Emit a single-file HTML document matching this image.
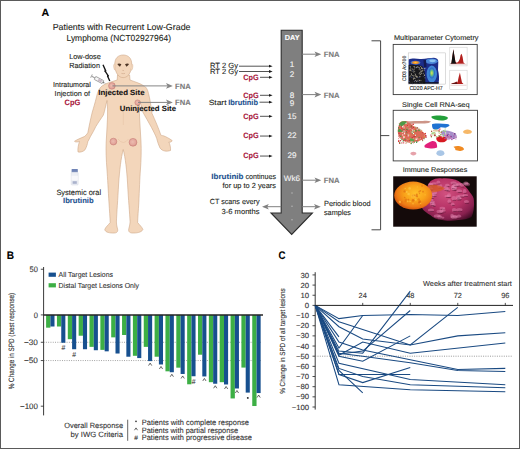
<!DOCTYPE html>
<html><head><meta charset="utf-8"><title>figure</title>
<style>
html,body{margin:0;padding:0;background:#fff;width:520px;height:449px;overflow:hidden;}
svg{display:block;font-family:"Liberation Sans",sans-serif;text-rendering:geometricPrecision;}
text{font-family:"Liberation Sans",sans-serif;}
</style></head><body>
<svg width="520" height="449" viewBox="0 0 520 449" fill="#231f20">
<rect x="0.5" y="0.5" width="519" height="448" fill="none" stroke="#5a5a5a" stroke-width="1"/>
<text stroke="#000" stroke-width="0.1" x="41.50" y="16.01" font-size="10.5" font-weight="bold" fill="#000" textLength="7.70" lengthAdjust="spacingAndGlyphs">A</text>
<text stroke="#231f20" stroke-width="0.1" fill="#231f20" x="52.70" y="29.73" font-size="8.8" textLength="137.80" lengthAdjust="spacingAndGlyphs">Patients with Recurrent Low-Grade</text>
<text stroke="#231f20" stroke-width="0.1" fill="#231f20" x="66.50" y="40.83" font-size="8.8" textLength="104.50" lengthAdjust="spacingAndGlyphs">Lymphoma (NCT02927964)</text>
<text stroke="#231f20" stroke-width="0.1" fill="#231f20" x="69.20" y="59.41" font-size="7.3" textLength="31.60" lengthAdjust="spacingAndGlyphs">Low-dose</text>
<text stroke="#231f20" stroke-width="0.1" fill="#231f20" x="69.20" y="68.31" font-size="7.3" textLength="30.80" lengthAdjust="spacingAndGlyphs">Radiation</text>
<text stroke="#231f20" stroke-width="0.1" fill="#231f20" x="53.00" y="86.71" font-size="7.3" textLength="37.80" lengthAdjust="spacingAndGlyphs">Intratumoral</text>
<text stroke="#231f20" stroke-width="0.1" fill="#231f20" x="54.60" y="96.31" font-size="7.3" textLength="35.40" lengthAdjust="spacingAndGlyphs">Injection of</text>
<text stroke="#a8163c" stroke-width="0.1" x="64.60" y="105.18" font-size="7.8" font-weight="bold" fill="#a8163c" textLength="15.70" lengthAdjust="spacingAndGlyphs">CpG</text>
<text stroke="#231f20" stroke-width="0.1" fill="#231f20" x="56.40" y="195.05" font-size="7.7" textLength="44.70" lengthAdjust="spacingAndGlyphs">Systemic oral</text>
<text stroke="#1d5290" stroke-width="0.1" x="63.10" y="202.51" font-size="7.6" font-weight="bold" fill="#1d5290" textLength="30.50" lengthAdjust="spacingAndGlyphs">Ibrutinib</text>
<path d="M117.5,75 L117.2,80 C112,81.8 106,83 102,86 C99,88.5 97.5,92 96.5,97 C95,103 93.5,108 92.3,112 C90.5,119 89,127 87.8,132.8 C87,134.5 85.5,135.8 84.3,136.6 C81,138 77,139.5 74.5,141.3 C75.5,142.3 77.5,142 79.5,141.5 C78.5,144.5 77.5,148.5 78,152 C80.5,152.5 83.5,151.5 85.1,149.7 C86.5,147 87.5,144 87.8,141.7 C88.8,139.8 89.8,138 90.5,136.4 C92.5,133 94.2,130 95.8,126.6 C98.5,122 101.5,118 103.4,115 C104.8,111 105.5,106 107,100.5 C107.6,106 107.8,112 107.5,118 C107.2,126 106.6,134 106.2,142 C105.8,150 106.2,160 107,170 C107.6,178 108.2,190 109,203 C109.5,211 110,217 110.2,222.5 C108.5,225 105.5,227 104.8,229.5 C105.2,232.5 110,233.2 114.5,233 C117.5,232.8 118.3,231 117.3,228 C116.8,226 116.4,224 116.4,222 C116.8,212 117.8,200 118.6,184 C119.6,170 121,158 123.2,149.5 C125.4,158 126.8,170 127.6,184 C128.4,200 129.6,212 130.1,222 C130,224 129.5,226 129,228 C128,231 129,232.8 132,233 C136.5,233.2 141.5,232.5 142.9,229.5 C142,227 139.5,225 137.6,222.5 C137.8,217 138.3,211 138.8,203 C139.4,190 139.8,178 140.4,170 C141.2,160 141.4,150 141,142 C140.6,134 140,126 139.6,118 C139.3,112 139.4,106 139.8,101 C141,104.5 141.8,108.5 142.8,112 C145.5,117 148.5,122 151.5,127.5 C153.5,131.5 155.5,135 156.7,138.5 C157.5,141.5 158.5,145 160,148 C162.5,151.3 166.5,151.8 170.5,150.5 C170.8,147.5 170,144.5 168.8,142 C170.2,142.5 171.6,142 172.2,140.6 C169.5,138.5 165.5,136.5 163.5,135.8 C162.2,135.5 161.2,135.4 160.9,135.2 C158.5,128 155,120 152,113.4 C151,106 150,99 148.5,93.5 C147.5,89 146,87 144.2,86.2 C141,83.5 135,82 130,80 L129.6,75 Z" fill="#f3d6bb" stroke="#cfa888" stroke-width="0.6"/>
<path d="M123.2,55 C128.5,55 131.7,58.5 131.7,64 C131.7,69 130.5,72.5 128.5,75 C126.8,77 125,77.6 123.2,77.6 C121.4,77.6 119.6,77 117.9,75 C115.9,72.5 114.8,69 114.8,64 C114.8,58.5 117.9,55 123.2,55 Z" fill="#f3d6bb" stroke="#cfa888" stroke-width="0.6"/>
<path d="M115,64 C113.6,63.5 113.4,66 113.9,68 C114.3,70 115,70.5 115.5,70" fill="#f3d6bb" stroke="#cfa888" stroke-width="0.4"/>
<path d="M131.5,64 C132.9,63.5 133.1,66 132.6,68 C132.2,70 131.5,70.5 131,70" fill="#f3d6bb" stroke="#cfa888" stroke-width="0.4"/>
<path d="M117.3,63.9 Q119.4,63.2 121.4,64.2 L119.9,66.8 Q118.4,65.6 117.3,63.9 Z" fill="#4e3626"/>
<path d="M129.1,63.9 Q127,63.2 125,64.2 L126.5,66.8 Q128,65.6 129.1,63.9 Z" fill="#4e3626"/>
<path d="M122.4,70.3 Q123.2,71 124,70.3 M121.4,73.4 Q123.2,74 125,73.4" stroke="#c49a7c" stroke-width="0.5" fill="none"/>
<path d="M114,92 Q118,95 122,93 M124.5,93 Q128.5,95 133,92 M123.3,104 L123.3,125 M118,139 Q123.3,146 128.5,139" stroke="#e3bfa0" stroke-width="0.5" fill="none"/>
<defs><radialGradient id="ng" cx="0.45" cy="0.45" r="0.6"><stop offset="0" stop-color="#ecbcb0"/><stop offset="0.7" stop-color="#e2a49a"/><stop offset="1" stop-color="#d28c84"/></radialGradient></defs>
<circle cx="111.9" cy="85.9" r="3.3" fill="url(#ng)" stroke="#c98078" stroke-width="0.6"/>
<circle cx="137.6" cy="102.6" r="2.7" fill="url(#ng)" stroke="#c98078" stroke-width="0.6"/>
<circle cx="113.4" cy="141.6" r="3.4" fill="url(#ng)" stroke="#c98078" stroke-width="0.6"/>
<circle cx="133.0" cy="142.3" r="3.9" fill="url(#ng)" stroke="#c98078" stroke-width="0.6"/>
<line x1="112.5" y1="85.9" x2="167.9" y2="85.9" stroke="#858585" stroke-width="1.0"/>
<path d="M172.8,85.9 L166.0,83.10000000000001 L167.6,85.9 L166.0,88.7 Z" fill="#858585"/>
<line x1="138" y1="102.4" x2="167.9" y2="102.4" stroke="#858585" stroke-width="1.0"/>
<path d="M172.8,102.4 L166.0,99.60000000000001 L167.6,102.4 L166.0,105.2 Z" fill="#858585"/>
<text stroke="#7c7c7c" stroke-width="0.1" x="175.10" y="89.05" font-size="7.7" font-weight="bold" fill="#7c7c7c" textLength="15.70" lengthAdjust="spacingAndGlyphs">FNA</text>
<text stroke="#7c7c7c" stroke-width="0.1" x="175.10" y="105.35" font-size="7.7" font-weight="bold" fill="#7c7c7c" textLength="15.70" lengthAdjust="spacingAndGlyphs">FNA</text>
<text stroke="#111" stroke-width="0.1" x="98.30" y="95.31" font-size="7.6" font-weight="bold" fill="#111" textLength="46.20" lengthAdjust="spacingAndGlyphs">Injected Site</text>
<text stroke="#111" stroke-width="0.1" x="119.80" y="111.41" font-size="7.6" font-weight="bold" fill="#111" textLength="56.20" lengthAdjust="spacingAndGlyphs">Uninjected Site</text>
<path d="M103,64.8 L105.6,70.6 L105.1,71.2 L108.1,75.6 L107.6,76.2 L109.8,81" fill="none" stroke="#161616" stroke-width="1.35" stroke-linejoin="round"/>
<circle cx="105.4" cy="70.9" r="0.9" fill="#161616"/><circle cx="107.9" cy="75.9" r="0.9" fill="#161616"/>
<g transform="translate(97.8,79.4) rotate(28)"><rect x="-3.2" y="-1.7" width="9" height="3.4" rx="0.4" fill="#f6f6f6" stroke="#7a7a7a" stroke-width="0.6"/><rect x="0.5" y="-1.1" width="4" height="2.2" fill="#c9b7c4"/><rect x="-6.8" y="-0.55" width="3.6" height="1.1" fill="#a0a0a0"/><rect x="-7.6" y="-1.9" width="0.9" height="3.8" fill="#a0a0a0"/><rect x="5.8" y="-0.8" width="1.2" height="1.6" fill="#7a7a7a"/><line x1="7" y1="0" x2="8.8" y2="0" stroke="#888" stroke-width="0.45"/></g>
<rect x="71.6" y="169" width="6.2" height="3.4" rx="0.5" fill="#7084b6"/>
<rect x="71.2" y="172.2" width="7" height="12.8" rx="0.9" fill="#eceef4" stroke="#cdd2de" stroke-width="0.4"/>
<rect x="71.5" y="175.8" width="6.4" height="4.6" fill="#f8f8fb"/>
<rect x="72.6" y="181.2" width="4.2" height="2.6" fill="#aab2cc"/>
<path d="M281.2,30.2 L302.2,30.2 L302.2,213 L312.4,213 L291.7,234.5 L271,213 L281.2,213 Z" fill="#7f7f7f" stroke="#2c2c2c" stroke-width="1.1"/>
<text stroke="#fff" stroke-width="0.1" x="284.80" y="40.21" font-size="7.3" font-weight="bold" fill="#fff" textLength="14.70" lengthAdjust="spacingAndGlyphs">DAY</text>
<text stroke="#f4f4f4" stroke-width="0.1" x="291.9" y="67.19" font-size="8.1" fill="#f4f4f4" text-anchor="middle">1</text>
<text stroke="#f4f4f4" stroke-width="0.1" x="291.9" y="77.19" font-size="8.1" fill="#f4f4f4" text-anchor="middle">2</text>
<text stroke="#f4f4f4" stroke-width="0.1" x="291.9" y="97.79" font-size="8.1" fill="#f4f4f4" text-anchor="middle">8</text>
<text stroke="#f4f4f4" stroke-width="0.1" x="291.9" y="105.69" font-size="8.1" fill="#f4f4f4" text-anchor="middle">9</text>
<text stroke="#f4f4f4" stroke-width="0.1" x="291.9" y="119.09" font-size="8.1" fill="#f4f4f4" text-anchor="middle">15</text>
<text stroke="#f4f4f4" stroke-width="0.1" x="291.9" y="138.39" font-size="8.1" fill="#f4f4f4" text-anchor="middle">22</text>
<text stroke="#f4f4f4" stroke-width="0.1" x="291.9" y="158.39" font-size="8.1" fill="#f4f4f4" text-anchor="middle">29</text>
<text stroke="#f4f4f4" stroke-width="0.1" x="283.75" y="181.35" font-size="8.0" fill="#f4f4f4" textLength="16.25" lengthAdjust="spacingAndGlyphs">Wk6</text>
<circle cx="292" cy="193" r="0.7" fill="#bdbdbd"/>
<circle cx="292" cy="206.3" r="0.7" fill="#bdbdbd"/>
<circle cx="292" cy="219.8" r="0.7" fill="#bdbdbd"/>
<text stroke="#231f20" stroke-width="0.1" fill="#231f20" x="210.00" y="67.68" font-size="7.5" textLength="28.00" lengthAdjust="spacingAndGlyphs">RT 2 Gy</text>
<line x1="239" y1="66.2" x2="269.4" y2="66.2" stroke="#1a1a1a" stroke-width="0.75"/>
<path d="M272.6,66.2 L269.0,64.8 L269.0,67.60000000000001 Z" fill="#1a1a1a"/>
<text stroke="#231f20" stroke-width="0.1" fill="#231f20" x="210.00" y="73.78" font-size="7.5" textLength="28.00" lengthAdjust="spacingAndGlyphs">RT 2 Gy</text>
<line x1="239" y1="71.5" x2="269.4" y2="71.5" stroke="#1a1a1a" stroke-width="0.75"/>
<path d="M272.6,71.5 L269.0,70.1 L269.0,72.9 Z" fill="#1a1a1a"/>
<text stroke="#a8163c" stroke-width="0.1" x="243.20" y="79.65" font-size="7.7" font-weight="bold" fill="#a8163c" textLength="15.40" lengthAdjust="spacingAndGlyphs">CpG</text>
<line x1="260" y1="77.3" x2="269.4" y2="77.3" stroke="#1a1a1a" stroke-width="0.75"/>
<path d="M272.6,77.3 L269.0,75.89999999999999 L269.0,78.7 Z" fill="#1a1a1a"/>
<text stroke="#a8163c" stroke-width="0.1" x="243.20" y="97.65" font-size="7.7" font-weight="bold" fill="#a8163c" textLength="15.40" lengthAdjust="spacingAndGlyphs">CpG</text>
<line x1="260" y1="95.3" x2="269.4" y2="95.3" stroke="#1a1a1a" stroke-width="0.75"/>
<path d="M272.6,95.3 L269.0,93.89999999999999 L269.0,96.7 Z" fill="#1a1a1a"/>
<text stroke="#a8163c" stroke-width="0.1" x="243.20" y="118.65" font-size="7.7" font-weight="bold" fill="#a8163c" textLength="15.40" lengthAdjust="spacingAndGlyphs">CpG</text>
<line x1="260" y1="116.3" x2="269.4" y2="116.3" stroke="#1a1a1a" stroke-width="0.75"/>
<path d="M272.6,116.3 L269.0,114.89999999999999 L269.0,117.7 Z" fill="#1a1a1a"/>
<text stroke="#a8163c" stroke-width="0.1" x="243.20" y="138.40" font-size="7.7" font-weight="bold" fill="#a8163c" textLength="15.40" lengthAdjust="spacingAndGlyphs">CpG</text>
<line x1="260" y1="136.05" x2="269.4" y2="136.05" stroke="#1a1a1a" stroke-width="0.75"/>
<path d="M272.6,136.05 L269.0,134.65 L269.0,137.45000000000002 Z" fill="#1a1a1a"/>
<text stroke="#a8163c" stroke-width="0.1" x="243.20" y="158.40" font-size="7.7" font-weight="bold" fill="#a8163c" textLength="15.40" lengthAdjust="spacingAndGlyphs">CpG</text>
<line x1="260" y1="156.05" x2="269.4" y2="156.05" stroke="#1a1a1a" stroke-width="0.75"/>
<path d="M272.6,156.05 L269.0,154.65 L269.0,157.45000000000002 Z" fill="#1a1a1a"/>
<text stroke="#231f20" stroke-width="0.1" fill="#231f20" x="208.75" y="104.55" font-size="7.4" textLength="17.75" lengthAdjust="spacingAndGlyphs">Start</text>
<text stroke="#1d5290" stroke-width="0.1" x="228.20" y="104.65" font-size="7.7" font-weight="bold" fill="#1d5290" textLength="29.80" lengthAdjust="spacingAndGlyphs">Ibrutinib</text>
<line x1="259.5" y1="102.2" x2="269.4" y2="102.2" stroke="#1a1a1a" stroke-width="0.75"/>
<path d="M272.6,102.2 L269.0,100.8 L269.0,103.60000000000001 Z" fill="#1a1a1a"/>
<line x1="302.2" y1="54.2" x2="316.40000000000003" y2="54.2" stroke="#808080" stroke-width="1.0"/>
<path d="M321.3,54.2 L314.5,51.400000000000006 L316.1,54.2 L314.5,57.0 Z" fill="#808080"/>
<line x1="302.2" y1="94.6" x2="316.40000000000003" y2="94.6" stroke="#808080" stroke-width="1.0"/>
<path d="M321.3,94.6 L314.5,91.8 L316.1,94.6 L314.5,97.39999999999999 Z" fill="#808080"/>
<line x1="302.2" y1="180.2" x2="316.40000000000003" y2="180.2" stroke="#808080" stroke-width="1.0"/>
<path d="M321.3,180.2 L314.5,177.39999999999998 L316.1,180.2 L314.5,183.0 Z" fill="#808080"/>
<text stroke="#7c7c7c" stroke-width="0.1" x="323.70" y="56.55" font-size="7.7" font-weight="bold" fill="#7c7c7c" textLength="15.80" lengthAdjust="spacingAndGlyphs">FNA</text>
<text stroke="#7c7c7c" stroke-width="0.1" x="323.70" y="97.75" font-size="7.7" font-weight="bold" fill="#7c7c7c" textLength="15.80" lengthAdjust="spacingAndGlyphs">FNA</text>
<text stroke="#7c7c7c" stroke-width="0.1" x="323.70" y="182.95" font-size="7.7" font-weight="bold" fill="#7c7c7c" textLength="15.80" lengthAdjust="spacingAndGlyphs">FNA</text>
<text stroke="#1d5290" stroke-width="0.1" x="211.25" y="179.15" font-size="7.7" font-weight="bold" fill="#1d5290" textLength="32.25" lengthAdjust="spacingAndGlyphs">Ibrutinib</text>
<text stroke="#231f20" stroke-width="0.1" fill="#231f20" x="245.50" y="179.05" font-size="7.4" textLength="30.50" lengthAdjust="spacingAndGlyphs">continues</text>
<text stroke="#231f20" stroke-width="0.1" fill="#231f20" x="222.50" y="188.30" font-size="7.4" textLength="53.50" lengthAdjust="spacingAndGlyphs">for up to 2 years</text>
<text stroke="#231f20" stroke-width="0.1" fill="#231f20" x="209.70" y="204.15" font-size="7.4" textLength="49.80" lengthAdjust="spacingAndGlyphs">CT scans every</text>
<text stroke="#231f20" stroke-width="0.1" fill="#231f20" x="221.50" y="213.55" font-size="7.4" textLength="38.00" lengthAdjust="spacingAndGlyphs">3-6 months</text>
<text stroke="#231f20" stroke-width="0.1" fill="#231f20" x="324.00" y="205.55" font-size="7.4" textLength="46.60" lengthAdjust="spacingAndGlyphs">Periodic blood</text>
<text stroke="#231f20" stroke-width="0.1" fill="#231f20" x="324.00" y="215.25" font-size="7.4" textLength="27.00" lengthAdjust="spacingAndGlyphs">samples</text>
<line x1="266.9" y1="206.7" x2="281.2" y2="206.7" stroke="#808080" stroke-width="1"/>
<path d="M262,206.7 L268.8,203.89999999999998 L267.2,206.7 L268.8,209.5 Z" fill="#808080"/>
<line x1="302.2" y1="206.7" x2="315.90000000000003" y2="206.7" stroke="#808080" stroke-width="1.0"/>
<path d="M320.8,206.7 L314.0,203.89999999999998 L315.6,206.7 L314.0,209.5 Z" fill="#808080"/>
<path d="M371.5,40.8 L380.6,40.8 L380.6,229.8 L371.5,229.8 M380.6,135.6 L389.3,135.6" fill="none" stroke="#333" stroke-width="0.9"/>
<text stroke="#231f20" stroke-width="0.1" fill="#231f20" x="394.00" y="39.97" font-size="6.9" textLength="84.50" lengthAdjust="spacingAndGlyphs">Multiparameter Cytometry</text>
<rect x="393.2" y="44.4" width="84" height="50.2" fill="#fff" stroke="#3a3a3a" stroke-width="0.9"/>
<text stroke="#231f20" stroke-width="0.1" fill="#231f20" x="402.00" y="106.97" font-size="6.9" textLength="67.60" lengthAdjust="spacingAndGlyphs">Single Cell RNA-seq</text>
<rect x="393.2" y="110.3" width="84.3" height="50.6" fill="#fff" stroke="#3a3a3a" stroke-width="0.9"/>
<text stroke="#231f20" stroke-width="0.1" fill="#231f20" x="402.70" y="171.97" font-size="6.9" textLength="64.60" lengthAdjust="spacingAndGlyphs">Immune Responses</text>
<rect x="408.2" y="52.9" width="37.3" height="31.2" fill="#fff" stroke="#b8b8b8" stroke-width="0.5"/>
<defs><radialGradient id="hot" cx="0.5" cy="0.5" r="0.5"><stop offset="0" stop-color="#f6d23a"/><stop offset="0.45" stop-color="#ef8a2a"/><stop offset="0.8" stop-color="#3d6fc4"/><stop offset="1" stop-color="#1f3a9a" stop-opacity="0"/></radialGradient><radialGradient id="hot2" cx="0.5" cy="0.5" r="0.5"><stop offset="0" stop-color="#e8e060"/><stop offset="0.35" stop-color="#7cc870"/><stop offset="0.7" stop-color="#2f7fd0"/><stop offset="1" stop-color="#1f3a9a" stop-opacity="0"/></radialGradient></defs>
<path d="M408.7,59.5 C411,58.2 416,58.4 420,59 C425,59.3 430,57.8 434,57.8 C437,58 438.5,59.5 438.3,62 L438,70 C439,74 439.5,79 438.5,83.6 L408.7,83.6 Z" fill="#1c2d8a"/>
<ellipse cx="431.5" cy="61.2" rx="6.2" ry="2.8" fill="#4a86d8"/>
<ellipse cx="432.5" cy="60.8" rx="3.2" ry="1.4" fill="#8cc4f0"/>
<ellipse cx="415.5" cy="62.6" rx="5.6" ry="2.4" fill="url(#hot)"/>
<ellipse cx="431.8" cy="74" rx="5.2" ry="8.6" fill="#3f86d6"/>
<ellipse cx="431.8" cy="73" rx="3.4" ry="6" fill="url(#hot2)"/>
<path d="M423.5,60 L426,60 L426.5,67 L424,67 Z" fill="#141a50"/>
<path d="M408.7,65 C412,64.5 418,65 422,66 C424.5,68 425.5,74 425.3,83.6 L408.7,83.6 Z" fill="#18181c"/>
<rect x="416.2" y="75.8" width="0.8" height="0.8" fill="#b7b09c"/>
<rect x="416.2" y="81.0" width="0.8" height="0.8" fill="#d8d2c0"/>
<rect x="412.0" y="75.0" width="0.8" height="0.8" fill="#888478"/>
<rect x="418.8" y="69.3" width="0.8" height="0.8" fill="#b7b09c"/>
<rect x="413.9" y="67.6" width="0.8" height="0.8" fill="#888478"/>
<rect x="419.2" y="76.4" width="0.8" height="0.8" fill="#b7b09c"/>
<rect x="424.4" y="77.4" width="0.8" height="0.8" fill="#3a4a8a"/>
<rect x="419.4" y="76.9" width="0.8" height="0.8" fill="#3a4a8a"/>
<rect x="410.0" y="66.6" width="0.8" height="0.8" fill="#d8d2c0"/>
<rect x="418.6" y="79.6" width="0.8" height="0.8" fill="#6d6a62"/>
<rect x="416.0" y="80.7" width="0.8" height="0.8" fill="#3a4a8a"/>
<rect x="412.7" y="71.1" width="0.8" height="0.8" fill="#a8a496"/>
<rect x="419.6" y="74.0" width="0.8" height="0.8" fill="#6d6a62"/>
<rect x="415.5" y="75.6" width="0.8" height="0.8" fill="#a8a496"/>
<rect x="420.3" y="71.5" width="0.8" height="0.8" fill="#d8d2c0"/>
<rect x="417.2" y="66.5" width="0.8" height="0.8" fill="#3a4a8a"/>
<rect x="421.3" y="73.0" width="0.8" height="0.8" fill="#6d6a62"/>
<rect x="415.2" y="82.8" width="0.8" height="0.8" fill="#888478"/>
<rect x="409.0" y="69.7" width="0.8" height="0.8" fill="#a8a496"/>
<rect x="416.5" y="83.2" width="0.8" height="0.8" fill="#b7b09c"/>
<rect x="415.7" y="75.9" width="0.8" height="0.8" fill="#d8d2c0"/>
<rect x="421.5" y="70.7" width="0.8" height="0.8" fill="#a8a496"/>
<rect x="414.0" y="66.3" width="0.8" height="0.8" fill="#b7b09c"/>
<rect x="421.1" y="68.1" width="0.8" height="0.8" fill="#d8d2c0"/>
<rect x="420.3" y="66.2" width="0.8" height="0.8" fill="#b7b09c"/>
<rect x="421.8" y="69.1" width="0.8" height="0.8" fill="#3a4a8a"/>
<rect x="412.0" y="74.9" width="0.8" height="0.8" fill="#888478"/>
<rect x="421.3" y="73.3" width="0.8" height="0.8" fill="#b7b09c"/>
<rect x="410.9" y="73.4" width="0.8" height="0.8" fill="#d8d2c0"/>
<rect x="409.0" y="81.1" width="0.8" height="0.8" fill="#3a4a8a"/>
<rect x="413.9" y="81.5" width="0.8" height="0.8" fill="#d8d2c0"/>
<rect x="412.0" y="83.4" width="0.8" height="0.8" fill="#3a4a8a"/>
<rect x="419.3" y="67.8" width="0.8" height="0.8" fill="#d8d2c0"/>
<rect x="412.4" y="70.5" width="0.8" height="0.8" fill="#3a4a8a"/>
<rect x="414.3" y="71.2" width="0.8" height="0.8" fill="#a8a496"/>
<rect x="410.2" y="69.7" width="0.8" height="0.8" fill="#888478"/>
<rect x="412.9" y="76.5" width="0.8" height="0.8" fill="#6d6a62"/>
<rect x="419.0" y="68.2" width="0.8" height="0.8" fill="#3a4a8a"/>
<rect x="416.7" y="76.1" width="0.8" height="0.8" fill="#b7b09c"/>
<rect x="411.9" y="68.7" width="0.8" height="0.8" fill="#d8d2c0"/>
<rect x="422.1" y="70.4" width="0.8" height="0.8" fill="#d8d2c0"/>
<rect x="411.5" y="77.0" width="0.8" height="0.8" fill="#3a4a8a"/>
<rect x="412.1" y="82.6" width="0.8" height="0.8" fill="#b7b09c"/>
<rect x="418.7" y="73.4" width="0.8" height="0.8" fill="#a8a496"/>
<rect x="410.7" y="75.0" width="0.8" height="0.8" fill="#6d6a62"/>
<rect x="412.8" y="78.3" width="0.8" height="0.8" fill="#6d6a62"/>
<rect x="415.7" y="81.8" width="0.8" height="0.8" fill="#b7b09c"/>
<rect x="413.7" y="69.1" width="0.8" height="0.8" fill="#888478"/>
<rect x="424.6" y="68.2" width="0.8" height="0.8" fill="#b7b09c"/>
<rect x="417.9" y="80.9" width="0.8" height="0.8" fill="#3a4a8a"/>
<rect x="410.2" y="69.7" width="0.8" height="0.8" fill="#d8d2c0"/>
<rect x="421.0" y="67.2" width="0.8" height="0.8" fill="#b7b09c"/>
<rect x="416.1" y="67.1" width="0.8" height="0.8" fill="#d8d2c0"/>
<rect x="413.5" y="75.3" width="0.8" height="0.8" fill="#d8d2c0"/>
<rect x="410.5" y="68.4" width="0.8" height="0.8" fill="#b7b09c"/>
<rect x="424.7" y="77.5" width="0.8" height="0.8" fill="#888478"/>
<rect x="417.4" y="82.6" width="0.8" height="0.8" fill="#3a4a8a"/>
<rect x="409.6" y="66.3" width="0.8" height="0.8" fill="#6d6a62"/>
<rect x="420.2" y="82.8" width="0.8" height="0.8" fill="#a8a496"/>
<rect x="418.6" y="67.3" width="0.8" height="0.8" fill="#a8a496"/>
<rect x="420.7" y="71.6" width="0.8" height="0.8" fill="#a8a496"/>
<rect x="410.2" y="75.6" width="0.8" height="0.8" fill="#888478"/>
<rect x="409.7" y="82.4" width="0.8" height="0.8" fill="#888478"/>
<rect x="420.3" y="79.9" width="0.8" height="0.8" fill="#6d6a62"/>
<rect x="414.6" y="78.0" width="0.8" height="0.8" fill="#a8a496"/>
<rect x="422.9" y="73.3" width="0.8" height="0.8" fill="#a8a496"/>
<rect x="422.8" y="76.0" width="0.8" height="0.8" fill="#3a4a8a"/>
<rect x="419.6" y="72.6" width="0.8" height="0.8" fill="#a8a496"/>
<rect x="418.7" y="67.4" width="0.8" height="0.8" fill="#888478"/>
<rect x="410.8" y="70.5" width="0.8" height="0.8" fill="#b7b09c"/>
<rect x="420.7" y="72.8" width="0.8" height="0.8" fill="#888478"/>
<rect x="420.1" y="74.0" width="0.8" height="0.8" fill="#b7b09c"/>
<rect x="422.4" y="67.5" width="0.8" height="0.8" fill="#3a4a8a"/>
<rect x="409.5" y="76.5" width="0.8" height="0.8" fill="#b7b09c"/>
<rect x="409.4" y="82.8" width="0.8" height="0.8" fill="#a8a496"/>
<rect x="417.0" y="76.8" width="0.8" height="0.8" fill="#b7b09c"/>
<rect x="413.1" y="66.2" width="0.8" height="0.8" fill="#6d6a62"/>
<rect x="411.3" y="76.7" width="0.8" height="0.8" fill="#3a4a8a"/>
<rect x="411.7" y="81.9" width="0.8" height="0.8" fill="#888478"/>
<rect x="423.9" y="74.7" width="0.8" height="0.8" fill="#d8d2c0"/>
<rect x="414.2" y="77.7" width="0.8" height="0.8" fill="#d8d2c0"/>
<rect x="419.1" y="80.1" width="0.8" height="0.8" fill="#d8d2c0"/>
<rect x="423.1" y="72.7" width="0.8" height="0.8" fill="#3a4a8a"/>
<rect x="423.7" y="69.7" width="0.8" height="0.8" fill="#d8d2c0"/>
<rect x="416.9" y="80.6" width="0.8" height="0.8" fill="#a8a496"/>
<rect x="420.4" y="82.6" width="0.8" height="0.8" fill="#6d6a62"/>
<rect x="422.1" y="68.0" width="0.8" height="0.8" fill="#b7b09c"/>
<rect x="413.4" y="69.7" width="0.8" height="0.8" fill="#b7b09c"/>
<rect x="415.1" y="75.1" width="0.8" height="0.8" fill="#888478"/>
<rect x="414.0" y="80.7" width="0.8" height="0.8" fill="#3a4a8a"/>
<rect x="416.2" y="67.3" width="0.8" height="0.8" fill="#a8a496"/>
<rect x="413.4" y="76.6" width="0.8" height="0.8" fill="#888478"/>
<rect x="420.3" y="76.0" width="0.8" height="0.8" fill="#6d6a62"/>
<rect x="419.4" y="75.9" width="0.8" height="0.8" fill="#888478"/>
<rect x="411.2" y="74.0" width="0.8" height="0.8" fill="#a8a496"/>
<rect x="421.3" y="70.7" width="0.8" height="0.8" fill="#d8d2c0"/>
<rect x="421.7" y="83.2" width="0.8" height="0.8" fill="#a8a496"/>
<rect x="416.1" y="77.0" width="0.8" height="0.8" fill="#888478"/>
<rect x="419.2" y="72.5" width="0.8" height="0.8" fill="#a8a496"/>
<rect x="420.0" y="69.5" width="0.8" height="0.8" fill="#b7b09c"/>
<rect x="413.1" y="78.5" width="0.8" height="0.8" fill="#b7b09c"/>
<rect x="417.6" y="66.6" width="0.8" height="0.8" fill="#d8d2c0"/>
<rect x="413.4" y="72.1" width="0.8" height="0.8" fill="#888478"/>
<rect x="424.1" y="74.8" width="0.8" height="0.8" fill="#d8d2c0"/>
<rect x="415.3" y="79.9" width="0.8" height="0.8" fill="#d8d2c0"/>
<rect x="410.4" y="82.3" width="0.8" height="0.8" fill="#888478"/>
<rect x="415.2" y="73.9" width="0.8" height="0.8" fill="#d8d2c0"/>
<rect x="419.0" y="81.9" width="0.8" height="0.8" fill="#b7b09c"/>
<rect x="417.8" y="77.4" width="0.8" height="0.8" fill="#3a4a8a"/>
<rect x="421.7" y="82.5" width="0.8" height="0.8" fill="#b7b09c"/>
<rect x="414.2" y="83.2" width="0.8" height="0.8" fill="#a8a496"/>
<rect x="420.6" y="80.3" width="0.8" height="0.8" fill="#888478"/>
<rect x="423.8" y="68.2" width="0.8" height="0.8" fill="#d8d2c0"/>
<rect x="423.4" y="83.2" width="0.8" height="0.8" fill="#6d6a62"/>
<rect x="417.6" y="79.8" width="0.8" height="0.8" fill="#6d6a62"/>
<rect x="413.2" y="78.6" width="0.8" height="0.8" fill="#a8a496"/>
<rect x="414.6" y="67.4" width="0.8" height="0.8" fill="#b7b09c"/>
<rect x="414.5" y="73.4" width="0.8" height="0.8" fill="#6d6a62"/>
<rect x="416.8" y="66.5" width="0.8" height="0.8" fill="#a8a496"/>
<rect x="415.9" y="66.6" width="0.8" height="0.8" fill="#3a4a8a"/>
<rect x="408.7" y="82.3" width="30" height="1.3" fill="#0c0c10"/>
<text stroke="#222" stroke-width="0.1" x="0" y="0" font-size="5.2" fill="#222" transform="translate(405.6,81.2) rotate(-90)" textLength="25.4" lengthAdjust="spacingAndGlyphs">CD3 Ax700</text>
<text stroke="#222" stroke-width="0.1" x="409.40" y="90.23" font-size="5.6" fill="#222" textLength="33.20" lengthAdjust="spacingAndGlyphs">CD20 APC-H7</text>
<rect x="449.8" y="47.2" width="17.3" height="18.7" fill="#fff" stroke="#c8c8c8" stroke-width="0.5"/>
<path d="M450.3,63.8 L451.5,63 L452.4,56 L453.4,49.3 L454.4,56 L455.5,62 L457,62.8 L458.5,61.5 L459.8,59 L460.6,55 L461.6,53.7 L462.6,57 L463.5,62.5 L465,63.8 Z" fill="#b3201e"/>
<path d="M450.3,63.8 L451.4,62.8 L452.4,56 L453.4,49.3 L454.4,56 L455.4,62 L456.6,63.8 Z" fill="#111"/>
<line x1="450.3" y1="64.3" x2="466.6" y2="64.3" stroke="#d8b0b0" stroke-width="0.6"/>
<rect x="449.8" y="70.2" width="17.3" height="19.5" fill="#fff" stroke="#c8c8c8" stroke-width="0.5"/>
<path d="M451,84 L453,83 L455,82.5 L456.5,81.5 L457.5,82.5 L458.7,77 L459.9,72.4 L461,78 L462,82.5 L463.5,84 Z" fill="#b3201e"/>
<path d="M451,84 L453,83.2 L455,82.8 L456.5,82 L457.5,84 Z" fill="#5a1414"/>
<line x1="450.5" y1="85.2" x2="466.5" y2="85.2" stroke="#d8b0b0" stroke-width="0.6"/>
<path d="M399.5,123 C401,120.8 404.5,120.6 407.7,121.4 C410,122.5 411.5,124 412.6,125.5 C415,127 417.5,128 419.2,129.6 C421.5,131 424,132.5 424.9,134.5 C426,136 426,137 425.7,137.8 C424,139 422.5,139.8 420.8,140.2 C418.5,141 416.5,141.5 414.2,141.9 C412.5,142.4 411,142.8 409.3,142.7 C406,142 404.5,141 402.8,140.2 C400.5,138.8 399.5,137.5 398.7,136.2 C397.8,133 397.6,131.5 397.9,129.6 C398.2,127 398.7,125 399.5,123 Z" fill="#dc6a58"/>
<path d="M406,121.5 C412,120.5 418,121 423,121 C426,120.5 429,120.8 431,121.6 C430,123 427,123.6 424,123.5 C419,123.6 414,123.4 410,124 Z" fill="#c07a6a" opacity="0.8"/>
<rect x="415.4" y="137.3" width="1.1" height="1.1" fill="#7cc36a"/>
<rect x="398.8" y="131.2" width="1.1" height="1.1" fill="#d83a3a"/>
<rect x="416.2" y="140.8" width="1.1" height="1.1" fill="#4aa048"/>
<rect x="408.4" y="140.1" width="1.1" height="1.1" fill="#ffffff"/>
<rect x="413.2" y="133.6" width="1.1" height="1.1" fill="#e8a23a"/>
<rect x="418.5" y="130.0" width="1.1" height="1.1" fill="#3f8a3f"/>
<rect x="423.7" y="137.8" width="1.1" height="1.1" fill="#3f8a3f"/>
<rect x="415.3" y="130.8" width="1.1" height="1.1" fill="#3f8a3f"/>
<rect x="398.0" y="140.2" width="1.1" height="1.1" fill="#d83a3a"/>
<rect x="402.6" y="124.7" width="1.1" height="1.1" fill="#f2c0b8"/>
<rect x="424.9" y="132.9" width="1.1" height="1.1" fill="#d83a3a"/>
<rect x="403.1" y="142.3" width="1.1" height="1.1" fill="#d83a3a"/>
<rect x="406.4" y="128.9" width="1.1" height="1.1" fill="#3f8a3f"/>
<rect x="407.3" y="139.0" width="1.1" height="1.1" fill="#e89090"/>
<rect x="398.1" y="135.9" width="1.1" height="1.1" fill="#f2c0b8"/>
<rect x="399.8" y="128.8" width="1.1" height="1.1" fill="#e07a60"/>
<rect x="411.5" y="127.9" width="1.1" height="1.1" fill="#c83040"/>
<rect x="411.2" y="124.9" width="1.1" height="1.1" fill="#e07a60"/>
<rect x="419.0" y="139.6" width="1.1" height="1.1" fill="#e8a23a"/>
<rect x="413.4" y="130.2" width="1.1" height="1.1" fill="#ffffff"/>
<rect x="399.3" y="125.0" width="1.1" height="1.1" fill="#d83a3a"/>
<rect x="401.3" y="126.4" width="1.1" height="1.1" fill="#c83040"/>
<rect x="407.6" y="128.8" width="1.1" height="1.1" fill="#7cc36a"/>
<rect x="405.0" y="131.2" width="1.1" height="1.1" fill="#e89090"/>
<rect x="419.0" y="138.5" width="1.1" height="1.1" fill="#e07a60"/>
<rect x="399.0" y="141.8" width="1.1" height="1.1" fill="#4aa048"/>
<rect x="403.8" y="132.3" width="1.1" height="1.1" fill="#f2c0b8"/>
<rect x="423.9" y="133.0" width="1.1" height="1.1" fill="#e07a60"/>
<rect x="417.2" y="127.7" width="1.1" height="1.1" fill="#4aa048"/>
<rect x="415.6" y="136.9" width="1.1" height="1.1" fill="#e07a60"/>
<rect x="399.4" y="142.7" width="1.1" height="1.1" fill="#7cc36a"/>
<rect x="418.7" y="128.6" width="1.1" height="1.1" fill="#e07a60"/>
<rect x="410.8" y="130.3" width="1.1" height="1.1" fill="#e8a23a"/>
<rect x="425.4" y="135.0" width="1.1" height="1.1" fill="#c83040"/>
<rect x="407.4" y="125.6" width="1.1" height="1.1" fill="#e89090"/>
<rect x="424.6" y="134.9" width="1.1" height="1.1" fill="#ffffff"/>
<rect x="401.0" y="130.6" width="1.1" height="1.1" fill="#3f8a3f"/>
<rect x="399.6" y="130.3" width="1.1" height="1.1" fill="#3f8a3f"/>
<rect x="410.7" y="143.0" width="1.1" height="1.1" fill="#3f8a3f"/>
<rect x="411.7" y="137.0" width="1.1" height="1.1" fill="#c83040"/>
<rect x="405.7" y="131.3" width="1.1" height="1.1" fill="#3f8a3f"/>
<rect x="401.2" y="139.1" width="1.1" height="1.1" fill="#7cc36a"/>
<rect x="424.9" y="134.8" width="1.1" height="1.1" fill="#c83040"/>
<rect x="411.8" y="132.3" width="1.1" height="1.1" fill="#7cc36a"/>
<rect x="420.0" y="138.0" width="1.1" height="1.1" fill="#e89090"/>
<rect x="416.6" y="137.7" width="1.1" height="1.1" fill="#f2c0b8"/>
<rect x="413.7" y="135.7" width="1.1" height="1.1" fill="#c83040"/>
<rect x="405.4" y="142.6" width="1.1" height="1.1" fill="#e07a60"/>
<rect x="403.0" y="139.7" width="1.1" height="1.1" fill="#c83040"/>
<rect x="413.3" y="126.5" width="1.1" height="1.1" fill="#e07a60"/>
<rect x="411.0" y="139.0" width="1.1" height="1.1" fill="#f2c0b8"/>
<rect x="407.7" y="135.2" width="1.1" height="1.1" fill="#ffffff"/>
<rect x="407.8" y="139.5" width="1.1" height="1.1" fill="#c83040"/>
<rect x="412.5" y="132.6" width="1.1" height="1.1" fill="#3f8a3f"/>
<rect x="403.6" y="129.0" width="1.1" height="1.1" fill="#c83040"/>
<rect x="405.9" y="122.7" width="1.1" height="1.1" fill="#ffffff"/>
<rect x="402.8" y="138.2" width="1.1" height="1.1" fill="#e89090"/>
<rect x="412.5" y="141.6" width="1.1" height="1.1" fill="#e07a60"/>
<rect x="415.5" y="138.0" width="1.1" height="1.1" fill="#e07a60"/>
<rect x="402.5" y="130.7" width="1.1" height="1.1" fill="#3f8a3f"/>
<rect x="404.1" y="136.1" width="1.1" height="1.1" fill="#e8a23a"/>
<rect x="402.6" y="140.6" width="1.1" height="1.1" fill="#4aa048"/>
<rect x="406.9" y="125.0" width="1.1" height="1.1" fill="#d83a3a"/>
<rect x="413.4" y="130.1" width="1.1" height="1.1" fill="#f2c0b8"/>
<rect x="408.6" y="134.5" width="1.1" height="1.1" fill="#e89090"/>
<rect x="403.7" y="136.8" width="1.1" height="1.1" fill="#f2c0b8"/>
<rect x="398.0" y="129.9" width="1.1" height="1.1" fill="#e07a60"/>
<rect x="422.0" y="140.1" width="1.1" height="1.1" fill="#7cc36a"/>
<rect x="408.5" y="121.8" width="1.1" height="1.1" fill="#e89090"/>
<rect x="406.4" y="127.5" width="1.1" height="1.1" fill="#7cc36a"/>
<rect x="407.5" y="133.8" width="1.1" height="1.1" fill="#f2c0b8"/>
<rect x="420.9" y="130.2" width="1.1" height="1.1" fill="#e89090"/>
<rect x="416.0" y="129.1" width="1.1" height="1.1" fill="#3f8a3f"/>
<rect x="402.4" y="129.4" width="1.1" height="1.1" fill="#c83040"/>
<rect x="415.0" y="128.7" width="1.1" height="1.1" fill="#e8a23a"/>
<rect x="408.7" y="128.2" width="1.1" height="1.1" fill="#e89090"/>
<rect x="413.1" y="128.2" width="1.1" height="1.1" fill="#e89090"/>
<rect x="408.5" y="130.5" width="1.1" height="1.1" fill="#d83a3a"/>
<rect x="411.8" y="131.6" width="1.1" height="1.1" fill="#ffffff"/>
<rect x="408.7" y="139.8" width="1.1" height="1.1" fill="#3f8a3f"/>
<rect x="414.7" y="126.7" width="1.1" height="1.1" fill="#e07a60"/>
<rect x="411.9" y="130.1" width="1.1" height="1.1" fill="#f2c0b8"/>
<rect x="398.7" y="135.5" width="1.1" height="1.1" fill="#c83040"/>
<rect x="404.9" y="121.9" width="1.1" height="1.1" fill="#3f8a3f"/>
<rect x="412.9" y="127.0" width="1.1" height="1.1" fill="#c83040"/>
<rect x="405.5" y="124.4" width="1.1" height="1.1" fill="#e07a60"/>
<rect x="406.2" y="134.4" width="1.1" height="1.1" fill="#c83040"/>
<rect x="412.5" y="140.0" width="1.1" height="1.1" fill="#4aa048"/>
<rect x="398.5" y="123.8" width="1.1" height="1.1" fill="#e07a60"/>
<rect x="412.9" y="128.4" width="1.1" height="1.1" fill="#e07a60"/>
<rect x="407.8" y="136.0" width="1.1" height="1.1" fill="#e89090"/>
<rect x="401.7" y="121.1" width="1.1" height="1.1" fill="#7cc36a"/>
<rect x="410.8" y="141.2" width="1.1" height="1.1" fill="#7cc36a"/>
<rect x="403.4" y="130.5" width="1.1" height="1.1" fill="#ffffff"/>
<rect x="414.7" y="136.2" width="1.1" height="1.1" fill="#c83040"/>
<rect x="422.0" y="139.5" width="1.1" height="1.1" fill="#c83040"/>
<rect x="409.0" y="139.7" width="1.1" height="1.1" fill="#d83a3a"/>
<rect x="398.1" y="138.1" width="1.1" height="1.1" fill="#e89090"/>
<rect x="406.0" y="138.2" width="1.1" height="1.1" fill="#e07a60"/>
<rect x="402.0" y="131.5" width="1.1" height="1.1" fill="#7cc36a"/>
<rect x="413.1" y="130.4" width="1.1" height="1.1" fill="#7cc36a"/>
<rect x="404.4" y="139.0" width="1.1" height="1.1" fill="#4aa048"/>
<rect x="418.2" y="142.5" width="1.1" height="1.1" fill="#ffffff"/>
<rect x="416.1" y="141.9" width="1.1" height="1.1" fill="#3f8a3f"/>
<rect x="425.8" y="136.5" width="1.1" height="1.1" fill="#c83040"/>
<rect x="402.2" y="134.4" width="1.1" height="1.1" fill="#ffffff"/>
<rect x="404.0" y="133.2" width="1.1" height="1.1" fill="#ffffff"/>
<rect x="409.2" y="134.7" width="1.1" height="1.1" fill="#e8a23a"/>
<rect x="410.1" y="127.9" width="1.1" height="1.1" fill="#e89090"/>
<rect x="411.7" y="128.8" width="1.1" height="1.1" fill="#f2c0b8"/>
<rect x="406.3" y="133.5" width="1.1" height="1.1" fill="#7cc36a"/>
<rect x="406.1" y="141.7" width="1.1" height="1.1" fill="#7cc36a"/>
<rect x="415.4" y="126.8" width="1.1" height="1.1" fill="#7cc36a"/>
<rect x="404.6" y="139.3" width="1.1" height="1.1" fill="#e07a60"/>
<rect x="412.5" y="123.9" width="1.1" height="1.1" fill="#d83a3a"/>
<rect x="422.2" y="131.0" width="1.1" height="1.1" fill="#ffffff"/>
<rect x="403.0" y="136.7" width="1.1" height="1.1" fill="#f2c0b8"/>
<rect x="400.4" y="135.7" width="1.1" height="1.1" fill="#4aa048"/>
<rect x="422.2" y="132.1" width="1.1" height="1.1" fill="#c83040"/>
<rect x="404.7" y="140.3" width="1.1" height="1.1" fill="#c83040"/>
<rect x="412.9" y="132.9" width="1.1" height="1.1" fill="#ffffff"/>
<rect x="399.5" y="124.3" width="1.1" height="1.1" fill="#ffffff"/>
<rect x="401.3" y="142.4" width="1.1" height="1.1" fill="#c83040"/>
<rect x="415.5" y="128.8" width="1.1" height="1.1" fill="#d83a3a"/>
<rect x="406.1" y="141.5" width="1.1" height="1.1" fill="#f2c0b8"/>
<rect x="420.3" y="129.3" width="1.1" height="1.1" fill="#f2c0b8"/>
<rect x="416.1" y="138.7" width="1.1" height="1.1" fill="#ffffff"/>
<rect x="399.0" y="142.8" width="1.1" height="1.1" fill="#d83a3a"/>
<rect x="418.7" y="129.7" width="1.1" height="1.1" fill="#4aa048"/>
<rect x="399.0" y="125.1" width="1.1" height="1.1" fill="#d83a3a"/>
<rect x="399.1" y="140.6" width="1.1" height="1.1" fill="#c83040"/>
<rect x="416.5" y="128.7" width="1.1" height="1.1" fill="#ffffff"/>
<rect x="411.2" y="140.6" width="1.1" height="1.1" fill="#e89090"/>
<rect x="410.9" y="125.2" width="1.1" height="1.1" fill="#3f8a3f"/>
<rect x="400.0" y="140.1" width="1.1" height="1.1" fill="#c83040"/>
<rect x="402.3" y="126.6" width="1.1" height="1.1" fill="#e07a60"/>
<rect x="420.9" y="137.5" width="1.1" height="1.1" fill="#d83a3a"/>
<rect x="398.9" y="140.7" width="1.1" height="1.1" fill="#f2c0b8"/>
<rect x="424.3" y="136.1" width="1.1" height="1.1" fill="#c83040"/>
<rect x="411.2" y="141.8" width="1.1" height="1.1" fill="#4aa048"/>
<rect x="410.7" y="126.3" width="1.1" height="1.1" fill="#3f8a3f"/>
<rect x="398.9" y="136.7" width="1.1" height="1.1" fill="#e89090"/>
<rect x="404.5" y="122.7" width="1.1" height="1.1" fill="#ffffff"/>
<rect x="423.5" y="136.5" width="1.1" height="1.1" fill="#e07a60"/>
<rect x="403.2" y="129.0" width="1.1" height="1.1" fill="#4aa048"/>
<rect x="418.5" y="136.8" width="1.1" height="1.1" fill="#3f8a3f"/>
<rect x="403.8" y="122.0" width="1.1" height="1.1" fill="#e89090"/>
<rect x="410.1" y="142.5" width="1.1" height="1.1" fill="#e8a23a"/>
<rect x="410.9" y="131.0" width="1.1" height="1.1" fill="#ffffff"/>
<rect x="402.8" y="121.7" width="1.1" height="1.1" fill="#7cc36a"/>
<rect x="413.8" y="141.7" width="1.1" height="1.1" fill="#4aa048"/>
<rect x="404.6" y="138.7" width="1.1" height="1.1" fill="#4aa048"/>
<rect x="404.8" y="122.1" width="1.1" height="1.1" fill="#ffffff"/>
<rect x="421.3" y="130.8" width="1.1" height="1.1" fill="#e8a23a"/>
<rect x="403.4" y="136.3" width="1.1" height="1.1" fill="#ffffff"/>
<rect x="403.3" y="126.1" width="1.1" height="1.1" fill="#f2c0b8"/>
<rect x="400.1" y="137.1" width="1.1" height="1.1" fill="#e89090"/>
<rect x="398.5" y="132.9" width="1.1" height="1.1" fill="#c83040"/>
<rect x="409.8" y="137.9" width="1.1" height="1.1" fill="#7cc36a"/>
<rect x="415.5" y="137.0" width="1.1" height="1.1" fill="#e07a60"/>
<rect x="417.3" y="140.6" width="1.1" height="1.1" fill="#d83a3a"/>
<rect x="411.5" y="138.2" width="1.1" height="1.1" fill="#e07a60"/>
<rect x="401.6" y="122.8" width="1.1" height="1.1" fill="#d83a3a"/>
<rect x="417.5" y="138.6" width="1.1" height="1.1" fill="#e89090"/>
<rect x="416.7" y="127.1" width="1.1" height="1.1" fill="#c83040"/>
<rect x="403.6" y="127.3" width="1.1" height="1.1" fill="#f2c0b8"/>
<rect x="419.5" y="129.4" width="1.1" height="1.1" fill="#7cc36a"/>
<rect x="398.0" y="127.3" width="1.1" height="1.1" fill="#3f8a3f"/>
<rect x="414.1" y="130.7" width="1.1" height="1.1" fill="#e8a23a"/>
<rect x="418.4" y="136.4" width="1.1" height="1.1" fill="#e07a60"/>
<rect x="401.0" y="138.7" width="1.1" height="1.1" fill="#7cc36a"/>
<rect x="401.6" y="122.5" width="1.1" height="1.1" fill="#3f8a3f"/>
<rect x="401.8" y="131.9" width="1.1" height="1.1" fill="#f2c0b8"/>
<rect x="406.0" y="122.4" width="1.1" height="1.1" fill="#7cc36a"/>
<rect x="398.8" y="123.7" width="1.1" height="1.1" fill="#3f8a3f"/>
<rect x="421.1" y="130.6" width="1.1" height="1.1" fill="#e07a60"/>
<rect x="424.6" y="134.5" width="1.1" height="1.1" fill="#d83a3a"/>
<rect x="412.8" y="123.8" width="1.1" height="1.1" fill="#d83a3a"/>
<rect x="407.3" y="121.3" width="1.1" height="1.1" fill="#e89090"/>
<rect x="415.0" y="134.9" width="1.1" height="1.1" fill="#3f8a3f"/>
<rect x="410.5" y="141.6" width="1.1" height="1.1" fill="#ffffff"/>
<rect x="401.3" y="128.0" width="1.1" height="1.1" fill="#d83a3a"/>
<rect x="410.9" y="130.6" width="1.1" height="1.1" fill="#c83040"/>
<rect x="399.4" y="135.7" width="1.1" height="1.1" fill="#3f8a3f"/>
<rect x="412.9" y="142.3" width="1.1" height="1.1" fill="#e89090"/>
<rect x="398.0" y="123.8" width="1.1" height="1.1" fill="#ffffff"/>
<rect x="398.0" y="141.0" width="1.1" height="1.1" fill="#d83a3a"/>
<rect x="411.5" y="140.4" width="1.1" height="1.1" fill="#ffffff"/>
<rect x="411.0" y="125.4" width="1.1" height="1.1" fill="#d83a3a"/>
<rect x="406.5" y="132.3" width="1.1" height="1.1" fill="#d83a3a"/>
<rect x="408.3" y="138.8" width="1.1" height="1.1" fill="#e8a23a"/>
<rect x="415.3" y="129.8" width="1.1" height="1.1" fill="#3f8a3f"/>
<rect x="402.0" y="126.2" width="1.1" height="1.1" fill="#ffffff"/>
<rect x="399.1" y="124.7" width="1.1" height="1.1" fill="#4aa048"/>
<rect x="423.8" y="138.5" width="1.1" height="1.1" fill="#f2c0b8"/>
<rect x="411.4" y="131.3" width="1.1" height="1.1" fill="#7cc36a"/>
<rect x="415.4" y="138.6" width="1.1" height="1.1" fill="#ffffff"/>
<rect x="414.9" y="134.7" width="1.1" height="1.1" fill="#ffffff"/>
<rect x="398.6" y="135.9" width="1.1" height="1.1" fill="#e89090"/>
<rect x="406.7" y="129.4" width="1.1" height="1.1" fill="#c83040"/>
<rect x="413.3" y="136.2" width="1.1" height="1.1" fill="#c83040"/>
<rect x="423.9" y="136.2" width="1.1" height="1.1" fill="#e8a23a"/>
<rect x="413.0" y="138.6" width="1.1" height="1.1" fill="#f2c0b8"/>
<path d="M399.5,123.5 C401,121.5 404,121 406.5,121.6 C406,123.8 403.5,125.5 401,126.5 Z" fill="#4c9a48"/>
<path d="M397.9,130 C399,128.5 401,128.8 401.5,130.5 C401,132 399,132.5 398,131.8 Z" fill="#4c9a48"/>
<path d="M410,139 C412,138 414,138.8 414.5,140.5 C413,141.8 411,141.5 410,140.5 Z" fill="#5aa850"/>
<path d="M431.4,116.5 C434,115.6 438,115.4 442,115.7 C445,116 447.5,116.5 447.8,117.6 C448,119 447,119.8 444.5,120.2 C441.5,120.7 438.5,120.4 434.7,119.4 C432.5,118.8 431.2,117.8 431.4,116.5 Z" fill="#23a03a"/>
<path d="M432.2,123.9 C437,123.2 442,123.4 447,123.9 C449,124.3 449.8,125 449.4,125.8 C448,127 446.5,127.6 445.3,127.7 C443.5,127.6 441.7,127.2 440.4,127.4 C439.2,128.2 438.2,129.3 437.1,129.6 C435.2,129.8 433.8,129.5 433,128.8 C432.2,127.5 431.8,125.5 432.2,123.9 Z" fill="#1f72d2"/>
<path d="M441,131 C444,130.2 448,130.4 451,131.5 C454,132.5 456.5,134 456.7,135.6 C456.5,138 454.5,139.4 452,139.4 C449,139.2 446.5,138.2 444,136.8 C442,135.5 440.5,133 441,131 Z" fill="#a58fc9"/>
<path d="M436.3,137.8 C438,136.4 440,136 442,136.2 C444,136.5 446.2,137.3 447,138.6 C447.2,140.3 446,141.5 444.5,141.9 C442.5,142.3 440.5,142.3 438.8,141.9 C437,141.2 436,139.5 436.3,137.8 Z" fill="#d61a22"/>
<path d="M445,135 C447.5,134.5 450,135.5 451.5,137 C450.5,138.6 448,139 446,138.2 Z" fill="#c07aa8"/>
<path d="M431.5,132.5 C433,131.8 435,132 436,133.2 C435.3,134.6 433.3,135 431.8,134.3 Z" fill="#b0d890"/>
<path d="M433,130 C435.5,129.6 438.5,130 440,131 C438,132 435,132 433,131.3 Z" fill="#e8c8a8"/>
<path d="M424.9,145.1 C427,143.5 429.8,141.8 432.2,141.1 C434,140.8 435.6,141.6 436.3,142.7 C437,144.5 437.3,146.3 437.1,147.6 C435,148.4 432.5,148.6 430.6,148.4 C428.5,148.3 426.3,148 424.9,147.6 C424.3,146.8 424.3,145.8 424.9,145.1 Z" fill="#e21f7a"/>
<path d="M453.5,146.8 C455.5,146 458,146 460,146.3 C462,146.8 463.8,147.8 464.1,149.2 C463,150.5 461.5,151 460,150.9 C458,150.8 456.5,150.5 455.1,150 C455.8,149.4 455.5,148.6 453.5,146.8 Z" fill="#f08a22"/>
<path d="M463,131.7 C463,130.4 465.5,129.4 467.4,129.4 C469.5,129.4 471.9,130.4 471.9,131.7 C471.9,133 469.5,134 467.4,134 C465.5,134 463,133 463,131.7 Z" fill="#f6b868"/>
<path d="M436.4,153.3 C436.4,151.3 438.3,150.3 440.4,150.3 C442.5,150.3 444.4,151.3 444.4,153.3 C444.4,155 442.5,156.1 440.4,156.1 C438.3,156.1 436.4,155 436.4,153.3 Z" fill="#a9c6e6"/>
<path d="M410.4,153.6 C410.4,152.5 412,151.8 413.4,151.8 C414.8,151.8 416.4,152.5 416.4,153.6 C416.4,154.7 414.8,155.4 413.4,155.4 C412,155.4 410.4,154.7 410.4,153.6 Z" fill="#e6a2aa"/>
<rect x="438.4" y="135.0" width="1.2" height="1.2" fill="#9ad080"/>
<rect x="434.6" y="134.6" width="1.2" height="1.2" fill="#a05030"/>
<rect x="438.6" y="130.7" width="1.2" height="1.2" fill="#c06040"/>
<rect x="434.0" y="135.0" width="1.2" height="1.2" fill="#d04060"/>
<rect x="434.0" y="132.5" width="1.2" height="1.2" fill="#9ad080"/>
<rect x="440.2" y="134.0" width="1.2" height="1.2" fill="#a05030"/>
<rect x="436.4" y="136.5" width="1.2" height="1.2" fill="#c06040"/>
<rect x="432.2" y="134.8" width="1.2" height="1.2" fill="#e8c0a0"/>
<rect x="432.4" y="134.1" width="1.2" height="1.2" fill="#f0f0e0"/>
<rect x="442.8" y="134.0" width="1.2" height="1.2" fill="#9ad080"/>
<rect x="438.6" y="135.6" width="1.2" height="1.2" fill="#a05030"/>
<rect x="431.1" y="131.8" width="1.2" height="1.2" fill="#f0f0e0"/>
<rect x="445.0" y="132.3" width="1.2" height="1.2" fill="#f0f0e0"/>
<rect x="432.3" y="135.0" width="1.2" height="1.2" fill="#f0f0e0"/>
<rect x="444.7" y="128.6" width="1.2" height="1.2" fill="#9ad080"/>
<rect x="439.1" y="135.7" width="1.2" height="1.2" fill="#a05030"/>
<rect x="435.7" y="136.2" width="1.2" height="1.2" fill="#9ad080"/>
<rect x="439.3" y="128.5" width="1.2" height="1.2" fill="#d04060"/>
<rect x="433.8" y="133.0" width="1.2" height="1.2" fill="#e8c0a0"/>
<rect x="438.4" y="131.4" width="1.2" height="1.2" fill="#9ad080"/>
<rect x="431.0" y="130.7" width="1.2" height="1.2" fill="#a05030"/>
<rect x="439.7" y="132.9" width="1.2" height="1.2" fill="#f0f0e0"/>
<rect x="444.4" y="130.5" width="1.2" height="1.2" fill="#9ad080"/>
<rect x="444.7" y="131.1" width="1.2" height="1.2" fill="#9ad080"/>
<rect x="431.5" y="133.1" width="1.2" height="1.2" fill="#9ad080"/>
<rect x="435.4" y="128.9" width="1.2" height="1.2" fill="#9ad080"/>
<rect x="430.3" y="134.5" width="1.2" height="1.2" fill="#d04060"/>
<rect x="440.1" y="134.3" width="1.2" height="1.2" fill="#9ad080"/>
<rect x="434.1" y="134.5" width="1.2" height="1.2" fill="#a05030"/>
<rect x="444.6" y="128.7" width="1.2" height="1.2" fill="#f0f0e0"/>
<rect x="438.4" y="129.6" width="1.2" height="1.2" fill="#d04060"/>
<rect x="441.7" y="136.2" width="1.2" height="1.2" fill="#f0f0e0"/>
<rect x="443.1" y="130.0" width="1.2" height="1.2" fill="#9ad080"/>
<rect x="445.4" y="133.9" width="1.2" height="1.2" fill="#e8c0a0"/>
<rect x="430.8" y="136.3" width="1.2" height="1.2" fill="#9ad080"/>
<rect x="442.9" y="135.9" width="1.2" height="1.2" fill="#9ad080"/>
<rect x="430.8" y="135.9" width="1.2" height="1.2" fill="#c06040"/>
<rect x="441.1" y="131.0" width="1.2" height="1.2" fill="#9ad080"/>
<rect x="440.5" y="131.7" width="1.2" height="1.2" fill="#c06040"/>
<rect x="438.7" y="132.8" width="1.2" height="1.2" fill="#e8c0a0"/>
<rect x="446.7" y="138.7" width="1.1" height="1.1" fill="#c080c0"/>
<rect x="453.6" y="133.3" width="1.1" height="1.1" fill="#6a2a7a"/>
<rect x="451.0" y="137.9" width="1.1" height="1.1" fill="#c080c0"/>
<rect x="450.6" y="136.1" width="1.1" height="1.1" fill="#6a2a7a"/>
<rect x="444.9" y="135.8" width="1.1" height="1.1" fill="#c080c0"/>
<rect x="446.7" y="134.9" width="1.1" height="1.1" fill="#c080c0"/>
<rect x="455.6" y="136.6" width="1.1" height="1.1" fill="#6a2a7a"/>
<rect x="444.6" y="138.0" width="1.1" height="1.1" fill="#c080c0"/>
<rect x="455.2" y="136.3" width="1.1" height="1.1" fill="#e0a0d0"/>
<rect x="448.4" y="139.0" width="1.1" height="1.1" fill="#c080c0"/>
<rect x="447.6" y="135.1" width="1.1" height="1.1" fill="#8a3a9a"/>
<rect x="450.2" y="136.1" width="1.1" height="1.1" fill="#c080c0"/>
<rect x="455.3" y="138.4" width="1.1" height="1.1" fill="#c080c0"/>
<rect x="449.4" y="135.7" width="1.1" height="1.1" fill="#c080c0"/>
<rect x="450.4" y="135.8" width="1.1" height="1.1" fill="#8a3a9a"/>
<rect x="447.5" y="134.1" width="1.1" height="1.1" fill="#8a3a9a"/>
<rect x="453.9" y="135.8" width="1.1" height="1.1" fill="#e0a0d0"/>
<rect x="446.5" y="134.6" width="1.1" height="1.1" fill="#8a3a9a"/>
<rect x="444.3" y="135.8" width="1.1" height="1.1" fill="#e0a0d0"/>
<rect x="451.3" y="139.0" width="1.1" height="1.1" fill="#8a3a9a"/>
<rect x="453.3" y="137.9" width="1.1" height="1.1" fill="#8a3a9a"/>
<rect x="449.5" y="137.9" width="1.1" height="1.1" fill="#c080c0"/>
<rect x="454.4" y="133.2" width="1.1" height="1.1" fill="#6a2a7a"/>
<rect x="453.5" y="135.6" width="1.1" height="1.1" fill="#8a3a9a"/>
<rect x="452.9" y="133.4" width="1.1" height="1.1" fill="#e0a0d0"/>
<rect x="447.2" y="135.1" width="1.1" height="1.1" fill="#6a2a7a"/>
<rect x="448.9" y="133.0" width="1.1" height="1.1" fill="#e0a0d0"/>
<rect x="445.0" y="137.5" width="1.1" height="1.1" fill="#8a3a9a"/>
<rect x="451.5" y="138.2" width="1.1" height="1.1" fill="#e0a0d0"/>
<rect x="447.9" y="135.0" width="1.1" height="1.1" fill="#c080c0"/>
<rect x="393.2" y="176.3" width="83.5" height="50.4" fill="#140a0a"/>
<defs><radialGradient id="og" cx="0.55" cy="0.42" r="0.62"><stop offset="0" stop-color="#ffc02a"/><stop offset="0.45" stop-color="#f9a41a"/><stop offset="0.78" stop-color="#ee7a16"/><stop offset="1" stop-color="#c84a0c"/></radialGradient><radialGradient id="pg" cx="0.45" cy="0.35" r="0.75"><stop offset="0" stop-color="#d0507e"/><stop offset="0.5" stop-color="#b63266"/><stop offset="0.8" stop-color="#86204e"/><stop offset="1" stop-color="#3a0a22"/></radialGradient></defs>
<path d="M422.4,208.7 C421,200 424,190 430.6,180.9 C435,178.5 438,178 442,178.5 C448,178 454,179 458.4,180.9 C463.5,184 467.5,188 469.8,192.3 C472.5,195.5 474,198 473.9,200.5 C474.5,207 473.5,213 471.5,216.9 C468,219 463,219.8 458.4,220.1 C452,221 446,221 442,220.1 C437,219.5 433,218 430.6,215.2 C427,213 424,211 422.4,208.7 Z" fill="url(#pg)"/>
<ellipse cx="449.0" cy="195.4" rx="2.0" ry="2.1" fill="#e68ab4" opacity="0.45"/>
<ellipse cx="449.6" cy="197.3" rx="1.6" ry="0.5" fill="#4a0c28" opacity="0.5"/>
<ellipse cx="430.3" cy="200.1" rx="3.2" ry="1.3" fill="#e68ab4" opacity="0.45"/>
<ellipse cx="430.9" cy="201.3" rx="2.6" ry="0.5" fill="#4a0c28" opacity="0.5"/>
<ellipse cx="452.7" cy="204.2" rx="1.9" ry="1.6" fill="#e68ab4" opacity="0.45"/>
<ellipse cx="453.3" cy="205.6" rx="1.5" ry="0.5" fill="#4a0c28" opacity="0.5"/>
<ellipse cx="458.8" cy="198.3" rx="3.0" ry="1.4" fill="#e68ab4" opacity="0.45"/>
<ellipse cx="459.4" cy="199.5" rx="2.4" ry="0.5" fill="#4a0c28" opacity="0.5"/>
<ellipse cx="439.8" cy="186.0" rx="2.6" ry="2.1" fill="#e68ab4" opacity="0.45"/>
<ellipse cx="440.4" cy="187.9" rx="2.1" ry="0.5" fill="#4a0c28" opacity="0.5"/>
<ellipse cx="454.2" cy="209.9" rx="2.4" ry="1.9" fill="#e68ab4" opacity="0.45"/>
<ellipse cx="454.8" cy="211.6" rx="1.9" ry="0.5" fill="#4a0c28" opacity="0.5"/>
<ellipse cx="434.2" cy="192.5" rx="2.9" ry="1.9" fill="#e68ab4" opacity="0.45"/>
<ellipse cx="434.8" cy="194.2" rx="2.3" ry="0.5" fill="#4a0c28" opacity="0.5"/>
<ellipse cx="447.3" cy="185.2" rx="2.2" ry="1.4" fill="#e68ab4" opacity="0.45"/>
<ellipse cx="447.9" cy="186.4" rx="1.8" ry="0.5" fill="#4a0c28" opacity="0.5"/>
<ellipse cx="441.5" cy="211.1" rx="2.1" ry="2.1" fill="#e68ab4" opacity="0.45"/>
<ellipse cx="442.1" cy="213.0" rx="1.7" ry="0.5" fill="#4a0c28" opacity="0.5"/>
<ellipse cx="466.1" cy="184.0" rx="2.4" ry="1.7" fill="#e68ab4" opacity="0.45"/>
<ellipse cx="466.7" cy="185.5" rx="1.9" ry="0.5" fill="#4a0c28" opacity="0.5"/>
<ellipse cx="431.0" cy="197.3" rx="3.3" ry="1.3" fill="#e68ab4" opacity="0.45"/>
<ellipse cx="431.6" cy="198.5" rx="2.6" ry="0.5" fill="#4a0c28" opacity="0.5"/>
<ellipse cx="454.5" cy="186.4" rx="2.7" ry="2.1" fill="#e68ab4" opacity="0.45"/>
<ellipse cx="455.1" cy="188.3" rx="2.2" ry="0.5" fill="#4a0c28" opacity="0.5"/>
<ellipse cx="438.3" cy="182.3" rx="1.9" ry="1.7" fill="#e68ab4" opacity="0.45"/>
<ellipse cx="438.9" cy="183.9" rx="1.5" ry="0.5" fill="#4a0c28" opacity="0.5"/>
<ellipse cx="430.7" cy="185.1" rx="2.6" ry="2.1" fill="#e68ab4" opacity="0.45"/>
<ellipse cx="431.3" cy="187.0" rx="2.1" ry="0.5" fill="#4a0c28" opacity="0.5"/>
<ellipse cx="447.2" cy="196.3" rx="2.8" ry="1.3" fill="#e68ab4" opacity="0.45"/>
<ellipse cx="447.8" cy="197.5" rx="2.3" ry="0.5" fill="#4a0c28" opacity="0.5"/>
<ellipse cx="453.8" cy="188.2" rx="2.8" ry="2.2" fill="#e68ab4" opacity="0.45"/>
<ellipse cx="454.4" cy="190.2" rx="2.2" ry="0.5" fill="#4a0c28" opacity="0.5"/>
<ellipse cx="432.2" cy="202.0" rx="2.8" ry="1.3" fill="#e68ab4" opacity="0.45"/>
<ellipse cx="432.8" cy="203.2" rx="2.2" ry="0.5" fill="#4a0c28" opacity="0.5"/>
<ellipse cx="441.0" cy="217.8" rx="3.4" ry="1.3" fill="#e68ab4" opacity="0.45"/>
<ellipse cx="441.6" cy="219.0" rx="2.7" ry="0.5" fill="#4a0c28" opacity="0.5"/>
<ellipse cx="458.9" cy="216.2" rx="2.2" ry="1.8" fill="#e68ab4" opacity="0.45"/>
<ellipse cx="459.5" cy="217.9" rx="1.7" ry="0.5" fill="#4a0c28" opacity="0.5"/>
<ellipse cx="431.8" cy="195.2" rx="2.9" ry="1.8" fill="#e68ab4" opacity="0.45"/>
<ellipse cx="432.4" cy="196.8" rx="2.3" ry="0.5" fill="#4a0c28" opacity="0.5"/>
<ellipse cx="461.8" cy="185.1" rx="2.4" ry="2.1" fill="#e68ab4" opacity="0.45"/>
<ellipse cx="462.4" cy="187.0" rx="1.9" ry="0.5" fill="#4a0c28" opacity="0.5"/>
<ellipse cx="453.9" cy="198.2" rx="2.4" ry="2.2" fill="#e68ab4" opacity="0.45"/>
<ellipse cx="454.5" cy="200.2" rx="2.0" ry="0.5" fill="#4a0c28" opacity="0.5"/>
<ellipse cx="453.6" cy="182.7" rx="3.1" ry="1.5" fill="#e68ab4" opacity="0.45"/>
<ellipse cx="454.2" cy="184.0" rx="2.5" ry="0.5" fill="#4a0c28" opacity="0.5"/>
<ellipse cx="447.8" cy="189.7" rx="2.5" ry="1.5" fill="#e68ab4" opacity="0.45"/>
<ellipse cx="448.4" cy="191.1" rx="2.0" ry="0.5" fill="#4a0c28" opacity="0.5"/>
<ellipse cx="433.6" cy="204.7" rx="2.0" ry="2.0" fill="#e68ab4" opacity="0.45"/>
<ellipse cx="434.2" cy="206.4" rx="1.6" ry="0.5" fill="#4a0c28" opacity="0.5"/>
<ellipse cx="431.0" cy="210.1" rx="3.1" ry="1.7" fill="#e68ab4" opacity="0.45"/>
<ellipse cx="431.6" cy="211.6" rx="2.5" ry="0.5" fill="#4a0c28" opacity="0.5"/>
<ellipse cx="459.1" cy="190.9" rx="3.0" ry="1.6" fill="#e68ab4" opacity="0.45"/>
<ellipse cx="459.7" cy="192.4" rx="2.4" ry="0.5" fill="#4a0c28" opacity="0.5"/>
<ellipse cx="439.5" cy="216.7" rx="2.4" ry="1.6" fill="#e68ab4" opacity="0.45"/>
<ellipse cx="440.1" cy="218.1" rx="2.0" ry="0.5" fill="#4a0c28" opacity="0.5"/>
<ellipse cx="465.3" cy="195.3" rx="2.9" ry="1.4" fill="#e68ab4" opacity="0.45"/>
<ellipse cx="465.9" cy="196.5" rx="2.3" ry="0.5" fill="#4a0c28" opacity="0.5"/>
<ellipse cx="464.6" cy="191.3" rx="1.9" ry="2.2" fill="#e68ab4" opacity="0.45"/>
<ellipse cx="465.2" cy="193.3" rx="1.5" ry="0.5" fill="#4a0c28" opacity="0.5"/>
<ellipse cx="437.1" cy="216.1" rx="3.4" ry="1.8" fill="#e68ab4" opacity="0.45"/>
<ellipse cx="437.7" cy="217.7" rx="2.7" ry="0.5" fill="#4a0c28" opacity="0.5"/>
<ellipse cx="430.5" cy="184.2" rx="2.1" ry="1.6" fill="#e68ab4" opacity="0.45"/>
<ellipse cx="431.1" cy="185.6" rx="1.7" ry="0.5" fill="#4a0c28" opacity="0.5"/>
<ellipse cx="455.1" cy="216.8" rx="2.4" ry="1.3" fill="#e68ab4" opacity="0.45"/>
<ellipse cx="455.7" cy="218.0" rx="1.9" ry="0.5" fill="#4a0c28" opacity="0.5"/>
<ellipse cx="453.0" cy="186.9" rx="1.9" ry="1.8" fill="#e68ab4" opacity="0.45"/>
<ellipse cx="453.6" cy="188.5" rx="1.6" ry="0.5" fill="#4a0c28" opacity="0.5"/>
<ellipse cx="458.5" cy="184.4" rx="2.5" ry="1.9" fill="#e68ab4" opacity="0.45"/>
<ellipse cx="459.1" cy="186.1" rx="2.0" ry="0.5" fill="#4a0c28" opacity="0.5"/>
<ellipse cx="461.3" cy="195.8" rx="3.2" ry="1.4" fill="#e68ab4" opacity="0.45"/>
<ellipse cx="461.9" cy="197.0" rx="2.6" ry="0.5" fill="#4a0c28" opacity="0.5"/>
<ellipse cx="459.3" cy="209.8" rx="3.2" ry="1.7" fill="#e68ab4" opacity="0.45"/>
<ellipse cx="459.9" cy="211.3" rx="2.6" ry="0.5" fill="#4a0c28" opacity="0.5"/>
<ellipse cx="434.1" cy="183.7" rx="2.6" ry="1.4" fill="#e68ab4" opacity="0.45"/>
<ellipse cx="434.7" cy="185.0" rx="2.1" ry="0.5" fill="#4a0c28" opacity="0.5"/>
<ellipse cx="455.8" cy="185.0" rx="3.0" ry="1.4" fill="#e68ab4" opacity="0.45"/>
<ellipse cx="456.4" cy="186.3" rx="2.4" ry="0.5" fill="#4a0c28" opacity="0.5"/>
<ellipse cx="430.5" cy="188.3" rx="2.5" ry="1.8" fill="#e68ab4" opacity="0.45"/>
<ellipse cx="431.1" cy="189.9" rx="2.0" ry="0.5" fill="#4a0c28" opacity="0.5"/>
<ellipse cx="445.9" cy="188.2" rx="2.6" ry="2.1" fill="#e68ab4" opacity="0.45"/>
<ellipse cx="446.5" cy="190.2" rx="2.1" ry="0.5" fill="#4a0c28" opacity="0.5"/>
<ellipse cx="452.0" cy="215.9" rx="1.8" ry="2.2" fill="#e68ab4" opacity="0.45"/>
<ellipse cx="452.6" cy="217.9" rx="1.5" ry="0.5" fill="#4a0c28" opacity="0.5"/>
<ellipse cx="466.4" cy="201.6" rx="2.6" ry="1.7" fill="#e68ab4" opacity="0.45"/>
<ellipse cx="467.0" cy="203.2" rx="2.1" ry="0.5" fill="#4a0c28" opacity="0.5"/>
<ellipse cx="467.3" cy="184.4" rx="2.8" ry="1.7" fill="#e68ab4" opacity="0.45"/>
<ellipse cx="467.9" cy="185.9" rx="2.3" ry="0.5" fill="#4a0c28" opacity="0.5"/>
<ellipse cx="442.3" cy="208.1" rx="3.0" ry="1.3" fill="#e68ab4" opacity="0.45"/>
<ellipse cx="442.9" cy="209.3" rx="2.4" ry="0.5" fill="#4a0c28" opacity="0.5"/>
<ellipse cx="458.7" cy="198.3" rx="2.6" ry="1.8" fill="#e68ab4" opacity="0.45"/>
<ellipse cx="459.3" cy="200.0" rx="2.1" ry="0.5" fill="#4a0c28" opacity="0.5"/>
<ellipse cx="432.2" cy="203.7" rx="2.4" ry="2.1" fill="#e68ab4" opacity="0.45"/>
<ellipse cx="432.8" cy="205.6" rx="1.9" ry="0.5" fill="#4a0c28" opacity="0.5"/>
<ellipse cx="439.5" cy="211.6" rx="3.0" ry="1.8" fill="#e68ab4" opacity="0.45"/>
<ellipse cx="440.1" cy="213.3" rx="2.4" ry="0.5" fill="#4a0c28" opacity="0.5"/>
<ellipse cx="465.9" cy="183.3" rx="2.8" ry="1.8" fill="#e68ab4" opacity="0.45"/>
<ellipse cx="466.5" cy="184.9" rx="2.2" ry="0.5" fill="#4a0c28" opacity="0.5"/>
<ellipse cx="457.8" cy="196.6" rx="1.9" ry="1.4" fill="#e68ab4" opacity="0.45"/>
<ellipse cx="458.4" cy="197.9" rx="1.5" ry="0.5" fill="#4a0c28" opacity="0.5"/>
<ellipse cx="454.9" cy="188.5" rx="1.9" ry="1.6" fill="#e68ab4" opacity="0.45"/>
<ellipse cx="455.5" cy="189.9" rx="1.5" ry="0.5" fill="#4a0c28" opacity="0.5"/>
<ellipse cx="449.3" cy="201.3" rx="1.8" ry="2.0" fill="#e68ab4" opacity="0.45"/>
<ellipse cx="449.9" cy="203.1" rx="1.5" ry="0.5" fill="#4a0c28" opacity="0.5"/>
<ellipse cx="443.7" cy="210.2" rx="1.8" ry="2.2" fill="#e68ab4" opacity="0.45"/>
<ellipse cx="444.3" cy="212.1" rx="1.5" ry="0.5" fill="#4a0c28" opacity="0.5"/>
<ellipse cx="454.2" cy="217.1" rx="3.4" ry="2.0" fill="#e68ab4" opacity="0.45"/>
<ellipse cx="454.8" cy="219.0" rx="2.7" ry="0.5" fill="#4a0c28" opacity="0.5"/>
<ellipse cx="434.4" cy="194.6" rx="2.2" ry="2.0" fill="#e68ab4" opacity="0.45"/>
<ellipse cx="435.0" cy="196.3" rx="1.7" ry="0.5" fill="#4a0c28" opacity="0.5"/>
<path d="M428,185.5 C434,184 440,185 445,188.5 C441,191 436,192.5 430,192.5 Z" fill="#d8601c" opacity="0.7"/>
<ellipse cx="413.2" cy="195.6" rx="19" ry="14" fill="url(#og)"/>
<circle cx="418.9" cy="202.6" r="1.0" fill="#d86010" opacity="0.55"/>
<circle cx="422.0" cy="185.9" r="0.9" fill="#e07010" opacity="0.55"/>
<circle cx="409.4" cy="195.5" r="0.6" fill="#ffb830" opacity="0.55"/>
<circle cx="419.5" cy="193.5" r="0.7" fill="#e07010" opacity="0.55"/>
<circle cx="423.0" cy="191.7" r="0.9" fill="#d86010" opacity="0.55"/>
<circle cx="412.8" cy="195.3" r="0.8" fill="#d86010" opacity="0.55"/>
<circle cx="409.6" cy="188.4" r="1.3" fill="#ffd050" opacity="0.55"/>
<circle cx="420.6" cy="203.6" r="0.7" fill="#ffd050" opacity="0.55"/>
<circle cx="404.7" cy="197.5" r="0.8" fill="#d86010" opacity="0.55"/>
<circle cx="419.4" cy="202.0" r="0.9" fill="#e07010" opacity="0.55"/>
<circle cx="416.0" cy="196.7" r="1.1" fill="#ffd050" opacity="0.55"/>
<circle cx="418.7" cy="199.5" r="1.2" fill="#e07010" opacity="0.55"/>
<circle cx="411.9" cy="197.0" r="1.0" fill="#ffb830" opacity="0.55"/>
<circle cx="408.4" cy="199.6" r="0.9" fill="#d86010" opacity="0.55"/>
<circle cx="412.9" cy="195.8" r="0.7" fill="#d86010" opacity="0.55"/>
<circle cx="414.3" cy="195.6" r="1.0" fill="#e07010" opacity="0.55"/>
<circle cx="408.6" cy="194.0" r="1.3" fill="#ffd050" opacity="0.55"/>
<circle cx="414.4" cy="197.4" r="0.8" fill="#ffb830" opacity="0.55"/>
<circle cx="407.7" cy="201.4" r="0.8" fill="#ffd050" opacity="0.55"/>
<circle cx="420.5" cy="205.1" r="0.7" fill="#d86010" opacity="0.55"/>
<circle cx="405.4" cy="201.3" r="1.1" fill="#e07010" opacity="0.55"/>
<circle cx="399.9" cy="202.0" r="1.3" fill="#ffd050" opacity="0.55"/>
<circle cx="419.1" cy="191.7" r="0.9" fill="#e07010" opacity="0.55"/>
<circle cx="416.8" cy="194.5" r="1.0" fill="#d86010" opacity="0.55"/>
<circle cx="417.4" cy="187.0" r="0.9" fill="#ffb830" opacity="0.55"/>
<circle cx="417.1" cy="196.6" r="0.8" fill="#d86010" opacity="0.55"/>
<circle cx="413.3" cy="200.2" r="1.2" fill="#e07010" opacity="0.55"/>
<circle cx="425.1" cy="194.7" r="0.9" fill="#ffb830" opacity="0.55"/>
<circle cx="419.9" cy="201.5" r="1.2" fill="#d86010" opacity="0.55"/>
<circle cx="416.6" cy="196.0" r="1.2" fill="#e07010" opacity="0.55"/>
<circle cx="420.3" cy="190.8" r="0.9" fill="#d86010" opacity="0.55"/>
<circle cx="410.1" cy="201.5" r="0.8" fill="#ffd050" opacity="0.55"/>
<circle cx="411.7" cy="196.6" r="1.1" fill="#ffb830" opacity="0.55"/>
<circle cx="404.6" cy="191.4" r="1.2" fill="#d86010" opacity="0.55"/>
<circle cx="412.9" cy="200.4" r="1.3" fill="#e07010" opacity="0.55"/>
<circle cx="414.2" cy="196.4" r="0.7" fill="#ffd050" opacity="0.55"/>
<circle cx="405.2" cy="188.4" r="0.7" fill="#ffd050" opacity="0.55"/>
<circle cx="412.1" cy="194.4" r="1.0" fill="#ffb830" opacity="0.55"/>
<circle cx="401.8" cy="201.9" r="1.0" fill="#e07010" opacity="0.55"/>
<circle cx="415.7" cy="199.7" r="1.1" fill="#ffd050" opacity="0.55"/>
<circle cx="406.7" cy="192.0" r="1.1" fill="#ffd050" opacity="0.55"/>
<circle cx="413.2" cy="195.5" r="0.9" fill="#ffd050" opacity="0.55"/>
<circle cx="405.9" cy="199.6" r="1.2" fill="#e07010" opacity="0.55"/>
<circle cx="413.0" cy="203.8" r="0.8" fill="#ffd050" opacity="0.55"/>
<circle cx="413.3" cy="197.4" r="1.1" fill="#ffb830" opacity="0.55"/>
<text stroke="#000" stroke-width="0.1" x="6.80" y="259.22" font-size="10.8" font-weight="bold" fill="#000" textLength="7.30" lengthAdjust="spacingAndGlyphs">B</text>
<line x1="43.6" y1="267" x2="43.6" y2="415.4" stroke="#222" stroke-width="0.9"/>
<line x1="40.8" y1="269.25" x2="43.6" y2="269.25" stroke="#222" stroke-width="0.8"/>
<text stroke="#333" stroke-width="0.1" x="29.60" y="272.00" font-size="7.9" fill="#333" textLength="8.3" lengthAdjust="spacingAndGlyphs">50</text>
<line x1="40.8" y1="314.90" x2="43.6" y2="314.90" stroke="#222" stroke-width="0.8"/>
<text stroke="#333" stroke-width="0.1" x="33.70" y="317.65" font-size="7.9" fill="#333" textLength="4.2" lengthAdjust="spacingAndGlyphs">0</text>
<line x1="40.8" y1="342.29" x2="43.6" y2="342.29" stroke="#222" stroke-width="0.8"/>
<text stroke="#333" stroke-width="0.1" x="24.00" y="345.04" font-size="7.9" fill="#333" textLength="13.9" lengthAdjust="spacingAndGlyphs">−30</text>
<line x1="40.8" y1="360.55" x2="43.6" y2="360.55" stroke="#222" stroke-width="0.8"/>
<text stroke="#333" stroke-width="0.1" x="24.00" y="363.30" font-size="7.9" fill="#333" textLength="13.9" lengthAdjust="spacingAndGlyphs">−50</text>
<line x1="40.8" y1="406.20" x2="43.6" y2="406.20" stroke="#222" stroke-width="0.8"/>
<text stroke="#333" stroke-width="0.1" x="20.00" y="408.95" font-size="7.9" fill="#333" textLength="17.9" lengthAdjust="spacingAndGlyphs">−100</text>
<line x1="43.6" y1="342.29" x2="262" y2="342.29" stroke="#555" stroke-width="0.6" stroke-dasharray="0.9,1.4"/>
<line x1="43.6" y1="360.55" x2="262" y2="360.55" stroke="#555" stroke-width="0.6" stroke-dasharray="0.9,1.4"/>
<rect x="46.10" y="314.90" width="4.3" height="12.78" fill="#3daf45"/>
<rect x="50.40" y="314.90" width="4.1" height="11.60" fill="#17508f"/>
<rect x="56.95" y="314.90" width="4.3" height="11.60" fill="#3daf45"/>
<rect x="61.25" y="314.90" width="4.1" height="27.85" fill="#17508f"/>
<text stroke="#3a3a3a" stroke-width="0.1" x="63.35" y="350.15" font-size="6.8" text-anchor="middle" fill="#3a3a3a">#</text>
<rect x="67.80" y="314.90" width="4.3" height="24.29" fill="#3daf45"/>
<rect x="72.10" y="314.90" width="4.1" height="34.33" fill="#17508f"/>
<text stroke="#3a3a3a" stroke-width="0.1" x="74.20" y="356.63" font-size="6.8" text-anchor="middle" fill="#3a3a3a">#</text>
<rect x="78.65" y="314.90" width="4.3" height="20.82" fill="#3daf45"/>
<rect x="82.95" y="314.90" width="4.1" height="34.33" fill="#17508f"/>
<rect x="89.50" y="314.90" width="4.3" height="31.96" fill="#3daf45"/>
<rect x="93.80" y="314.90" width="4.1" height="35.33" fill="#17508f"/>
<rect x="100.35" y="314.90" width="4.3" height="34.97" fill="#3daf45"/>
<rect x="104.65" y="314.90" width="4.1" height="36.43" fill="#17508f"/>
<rect x="111.20" y="314.90" width="4.3" height="22.46" fill="#3daf45"/>
<rect x="115.50" y="314.90" width="4.1" height="38.62" fill="#17508f"/>
<rect x="122.05" y="314.90" width="4.3" height="20.09" fill="#3daf45"/>
<rect x="126.35" y="314.90" width="4.1" height="41.82" fill="#17508f"/>
<rect x="132.90" y="314.90" width="4.3" height="40.90" fill="#3daf45"/>
<rect x="137.20" y="314.90" width="4.1" height="43.18" fill="#17508f"/>
<rect x="143.75" y="314.90" width="4.3" height="31.96" fill="#3daf45"/>
<rect x="148.05" y="314.90" width="4.1" height="46.20" fill="#17508f"/>
<path d="M148.55,365.60 L150.15,363.10 L151.75,365.60" fill="none" stroke="#333" stroke-width="0.75"/>
<rect x="154.60" y="314.90" width="4.3" height="41.82" fill="#3daf45"/>
<rect x="158.90" y="314.90" width="4.1" height="49.58" fill="#17508f"/>
<path d="M159.40,368.98 L161.00,366.48 L162.60,368.98" fill="none" stroke="#333" stroke-width="0.75"/>
<rect x="165.45" y="314.90" width="4.3" height="56.42" fill="#3daf45"/>
<rect x="169.75" y="314.90" width="4.1" height="57.34" fill="#17508f"/>
<path d="M170.25,376.74 L171.85,374.24 L173.45,376.74" fill="none" stroke="#333" stroke-width="0.75"/>
<rect x="176.30" y="314.90" width="4.3" height="52.77" fill="#3daf45"/>
<rect x="180.60" y="314.90" width="4.1" height="59.07" fill="#17508f"/>
<path d="M181.10,378.47 L182.70,375.97 L184.30,378.47" fill="none" stroke="#333" stroke-width="0.75"/>
<rect x="187.15" y="314.90" width="4.3" height="69.39" fill="#3daf45"/>
<rect x="191.45" y="314.90" width="4.1" height="61.35" fill="#17508f"/>
<text stroke="#3a3a3a" stroke-width="0.1" x="193.55" y="383.65" font-size="6.8" text-anchor="middle" fill="#3a3a3a">#</text>
<rect x="198.00" y="314.90" width="4.3" height="39.81" fill="#3daf45"/>
<rect x="202.30" y="314.90" width="4.1" height="61.54" fill="#17508f"/>
<path d="M202.80,380.94 L204.40,378.44 L206.00,380.94" fill="none" stroke="#333" stroke-width="0.75"/>
<rect x="208.85" y="314.90" width="4.3" height="67.29" fill="#3daf45"/>
<rect x="213.15" y="314.90" width="4.1" height="68.84" fill="#17508f"/>
<path d="M213.65,388.24 L215.25,385.74 L216.85,388.24" fill="none" stroke="#333" stroke-width="0.75"/>
<rect x="219.70" y="314.90" width="4.3" height="67.29" fill="#3daf45"/>
<rect x="224.00" y="314.90" width="4.1" height="69.57" fill="#17508f"/>
<path d="M224.50,388.97 L226.10,386.47 L227.70,388.97" fill="none" stroke="#333" stroke-width="0.75"/>
<rect x="230.55" y="314.90" width="4.3" height="83.54" fill="#3daf45"/>
<rect x="234.85" y="314.90" width="4.1" height="73.59" fill="#17508f"/>
<path d="M235.35,392.99 L236.95,390.49 L238.55,392.99" fill="none" stroke="#333" stroke-width="0.75"/>
<rect x="241.40" y="314.90" width="4.3" height="52.68" fill="#3daf45"/>
<rect x="245.70" y="314.90" width="4.1" height="77.70" fill="#17508f"/>
<circle cx="247.80" cy="397.90" r="0.95" fill="#222"/>
<rect x="252.25" y="314.90" width="4.3" height="91.12" fill="#3daf45"/>
<rect x="256.55" y="314.90" width="4.1" height="78.15" fill="#17508f"/>
<path d="M257.05,397.55 L258.65,395.05 L260.25,397.55" fill="none" stroke="#333" stroke-width="0.75"/>
<line x1="43.6" y1="314.9" x2="263" y2="314.9" stroke="#262626" stroke-width="1.45"/>
<rect x="48.6" y="272.6" width="7.3" height="4.2" fill="#17508f"/>
<rect x="48.6" y="283.2" width="7.3" height="4.2" fill="#3daf45"/>
<text stroke="#333" stroke-width="0.1" x="58.60" y="277.18" font-size="7.2" fill="#333" textLength="54.40" lengthAdjust="spacingAndGlyphs">All Target Lesions</text>
<text stroke="#333" stroke-width="0.1" x="58.60" y="287.78" font-size="7.2" fill="#333" textLength="80.40" lengthAdjust="spacingAndGlyphs">Distal Target Lesions Only</text>
<text stroke="#2a2a2a" stroke-width="0.1" x="0" y="0" font-size="7.7" fill="#2a2a2a" transform="translate(14.0,389.3) rotate(-90)" textLength="96.5" lengthAdjust="spacingAndGlyphs">% Change in SPD (best response)</text>
<text stroke="#333" stroke-width="0.1" x="64.20" y="427.81" font-size="7.6" fill="#333" textLength="58.90" lengthAdjust="spacingAndGlyphs">Overall Response</text>
<text stroke="#333" stroke-width="0.1" x="70.60" y="436.91" font-size="7.6" fill="#333" textLength="52.50" lengthAdjust="spacingAndGlyphs">by IWG Criteria</text>
<line x1="127.7" y1="419.7" x2="127.7" y2="440.8" stroke="#555" stroke-width="0.9"/>
<circle cx="136" cy="421.3" r="0.85" fill="#333"/>
<path d="M134.5,430.2 L136,427.9 L137.5,430.2" fill="none" stroke="#333" stroke-width="0.75"/>
<text stroke="#333" stroke-width="0.1" x="136" y="439.9" font-size="6.6" text-anchor="middle" fill="#333">#</text>
<text stroke="#333" stroke-width="0.1" x="141.80" y="424.85" font-size="7.7" fill="#333" textLength="107.10" lengthAdjust="spacingAndGlyphs">Patients with complete response</text>
<text stroke="#333" stroke-width="0.1" x="141.80" y="432.85" font-size="7.7" fill="#333" textLength="96.30" lengthAdjust="spacingAndGlyphs">Patients with partial response</text>
<text stroke="#333" stroke-width="0.1" x="141.80" y="440.25" font-size="7.7" fill="#333" textLength="110.10" lengthAdjust="spacingAndGlyphs">Patients with progressive disease</text>
<text stroke="#000" stroke-width="0.1" x="278.60" y="258.68" font-size="11.0" font-weight="bold" fill="#000" textLength="7.00" lengthAdjust="spacingAndGlyphs">C</text>
<line x1="315.2" y1="272.2" x2="315.2" y2="409.6" stroke="#222" stroke-width="0.9"/>
<line x1="312.5" y1="274.92" x2="315.2" y2="274.92" stroke="#222" stroke-width="0.8"/>
<text stroke="#333" stroke-width="0.1" x="300.40" y="277.52" font-size="7.4" fill="#333" textLength="8.70" lengthAdjust="spacingAndGlyphs">30</text>
<line x1="312.5" y1="285.08" x2="315.2" y2="285.08" stroke="#222" stroke-width="0.8"/>
<text stroke="#333" stroke-width="0.1" x="300.40" y="287.68" font-size="7.4" fill="#333" textLength="8.70" lengthAdjust="spacingAndGlyphs">20</text>
<line x1="312.5" y1="295.24" x2="315.2" y2="295.24" stroke="#222" stroke-width="0.8"/>
<text stroke="#333" stroke-width="0.1" x="300.40" y="297.84" font-size="7.4" fill="#333" textLength="8.70" lengthAdjust="spacingAndGlyphs">10</text>
<line x1="312.5" y1="305.40" x2="315.2" y2="305.40" stroke="#222" stroke-width="0.8"/>
<text stroke="#333" stroke-width="0.1" x="304.75" y="308.00" font-size="7.4" fill="#333" textLength="4.35" lengthAdjust="spacingAndGlyphs">0</text>
<line x1="312.5" y1="315.56" x2="315.2" y2="315.56" stroke="#222" stroke-width="0.8"/>
<text stroke="#333" stroke-width="0.1" x="296.00" y="318.16" font-size="7.4" fill="#333" textLength="13.10" lengthAdjust="spacingAndGlyphs">−10</text>
<line x1="312.5" y1="325.72" x2="315.2" y2="325.72" stroke="#222" stroke-width="0.8"/>
<text stroke="#333" stroke-width="0.1" x="296.00" y="328.32" font-size="7.4" fill="#333" textLength="13.10" lengthAdjust="spacingAndGlyphs">−20</text>
<line x1="312.5" y1="335.88" x2="315.2" y2="335.88" stroke="#222" stroke-width="0.8"/>
<text stroke="#333" stroke-width="0.1" x="296.00" y="338.48" font-size="7.4" fill="#333" textLength="13.10" lengthAdjust="spacingAndGlyphs">−30</text>
<line x1="312.5" y1="346.04" x2="315.2" y2="346.04" stroke="#222" stroke-width="0.8"/>
<text stroke="#333" stroke-width="0.1" x="296.00" y="348.64" font-size="7.4" fill="#333" textLength="13.10" lengthAdjust="spacingAndGlyphs">−40</text>
<line x1="312.5" y1="356.20" x2="315.2" y2="356.20" stroke="#222" stroke-width="0.8"/>
<text stroke="#333" stroke-width="0.1" x="296.00" y="358.80" font-size="7.4" fill="#333" textLength="13.10" lengthAdjust="spacingAndGlyphs">−50</text>
<line x1="312.5" y1="366.36" x2="315.2" y2="366.36" stroke="#222" stroke-width="0.8"/>
<text stroke="#333" stroke-width="0.1" x="296.00" y="368.96" font-size="7.4" fill="#333" textLength="13.10" lengthAdjust="spacingAndGlyphs">−60</text>
<line x1="312.5" y1="376.52" x2="315.2" y2="376.52" stroke="#222" stroke-width="0.8"/>
<text stroke="#333" stroke-width="0.1" x="296.00" y="379.12" font-size="7.4" fill="#333" textLength="13.10" lengthAdjust="spacingAndGlyphs">−70</text>
<line x1="312.5" y1="386.68" x2="315.2" y2="386.68" stroke="#222" stroke-width="0.8"/>
<text stroke="#333" stroke-width="0.1" x="296.00" y="389.28" font-size="7.4" fill="#333" textLength="13.10" lengthAdjust="spacingAndGlyphs">−80</text>
<line x1="312.5" y1="396.84" x2="315.2" y2="396.84" stroke="#222" stroke-width="0.8"/>
<text stroke="#333" stroke-width="0.1" x="296.00" y="399.44" font-size="7.4" fill="#333" textLength="13.10" lengthAdjust="spacingAndGlyphs">−90</text>
<line x1="312.5" y1="407.00" x2="315.2" y2="407.00" stroke="#222" stroke-width="0.8"/>
<text stroke="#333" stroke-width="0.1" x="291.65" y="409.60" font-size="7.4" fill="#333" textLength="17.45" lengthAdjust="spacingAndGlyphs">−100</text>
<line x1="362.73" y1="302.9" x2="362.73" y2="305.4" stroke="#222" stroke-width="0.8"/>
<text stroke="#333" stroke-width="0.1" x="362.73" y="297.9" font-size="7.4" text-anchor="middle" fill="#333">24</text>
<line x1="410.25" y1="302.9" x2="410.25" y2="305.4" stroke="#222" stroke-width="0.8"/>
<text stroke="#333" stroke-width="0.1" x="410.25" y="297.9" font-size="7.4" text-anchor="middle" fill="#333">48</text>
<line x1="457.77" y1="302.9" x2="457.77" y2="305.4" stroke="#222" stroke-width="0.8"/>
<text stroke="#333" stroke-width="0.1" x="457.77" y="297.9" font-size="7.4" text-anchor="middle" fill="#333">72</text>
<line x1="505.30" y1="302.9" x2="505.30" y2="305.4" stroke="#222" stroke-width="0.8"/>
<text stroke="#333" stroke-width="0.1" x="505.30" y="297.9" font-size="7.4" text-anchor="middle" fill="#333">96</text>
<text stroke="#333" stroke-width="0.1" x="423.00" y="285.98" font-size="7.2" fill="#333" textLength="88.90" lengthAdjust="spacingAndGlyphs">Weeks after treatment start</text>
<text stroke="#2a2a2a" stroke-width="0.1" x="0" y="0" font-size="7.4" fill="#2a2a2a" transform="translate(285.3,393.8) rotate(-90)" textLength="105.5" lengthAdjust="spacingAndGlyphs">% Change in SPD of all target lesions</text>
<line x1="315.2" y1="356.20" x2="513" y2="356.20" stroke="#777" stroke-width="0.75" stroke-dasharray="1,1.3"/>
<polyline points="315.20,305.40 338.96,318.61 362.73,315.56 410.25,314.54 457.77,315.56 505.30,311.50" fill="none" stroke="#1a4a82" stroke-width="1.05"/>
<polyline points="315.20,305.40 338.96,348.07 362.73,315.56" fill="none" stroke="#1a4a82" stroke-width="1.05"/>
<polyline points="315.20,305.40 338.96,321.66 410.25,345.02 457.77,335.88 505.30,332.83" fill="none" stroke="#1a4a82" stroke-width="1.05"/>
<polyline points="315.20,305.40 338.96,326.74 362.73,338.93 410.25,345.02 457.77,307.43" fill="none" stroke="#1a4a82" stroke-width="1.05"/>
<polyline points="315.20,305.40 338.96,336.90" fill="none" stroke="#1a4a82" stroke-width="1.05"/>
<polyline points="315.20,305.40 338.96,351.12 362.73,353.15 410.25,291.18" fill="none" stroke="#1a4a82" stroke-width="1.05"/>
<polyline points="315.20,305.40 338.96,354.17 362.73,351.12 410.25,310.48" fill="none" stroke="#1a4a82" stroke-width="1.05"/>
<polyline points="315.20,305.40 338.96,355.18 362.73,341.98 410.25,353.15 505.30,342.99" fill="none" stroke="#1a4a82" stroke-width="1.05"/>
<polyline points="315.20,305.40 338.96,356.20 362.73,361.28 410.25,335.88" fill="none" stroke="#1a4a82" stroke-width="1.05"/>
<polyline points="315.20,305.40 338.96,353.15 362.73,356.20 410.25,362.80 457.77,370.42 505.30,371.44" fill="none" stroke="#1a4a82" stroke-width="1.05"/>
<polyline points="315.20,305.40 338.96,341.98 362.73,350.10 410.25,359.76 457.77,369.41 505.30,368.39" fill="none" stroke="#1a4a82" stroke-width="1.05"/>
<polyline points="315.20,305.40 338.96,374.49 362.73,374.49 410.25,374.49" fill="none" stroke="#1a4a82" stroke-width="1.05"/>
<polyline points="315.20,305.40 338.96,374.49 362.73,382.62 410.25,367.38" fill="none" stroke="#1a4a82" stroke-width="1.05"/>
<polyline points="315.20,305.40 338.96,363.31 410.25,379.57 505.30,384.65" fill="none" stroke="#1a4a82" stroke-width="1.05"/>
<polyline points="315.20,305.40 338.96,368.39 362.73,376.52 410.25,384.65 505.30,387.70" fill="none" stroke="#1a4a82" stroke-width="1.05"/>
<polyline points="315.20,305.40 338.96,384.65 410.25,389.73 505.30,391.76" fill="none" stroke="#1a4a82" stroke-width="1.05"/>
<polyline points="315.20,305.40 338.96,370.42 362.73,392.78" fill="none" stroke="#1a4a82" stroke-width="1.05"/>
<line x1="315.2" y1="305.4" x2="513" y2="305.4" stroke="#222" stroke-width="1"/>
</svg>
</body></html>
